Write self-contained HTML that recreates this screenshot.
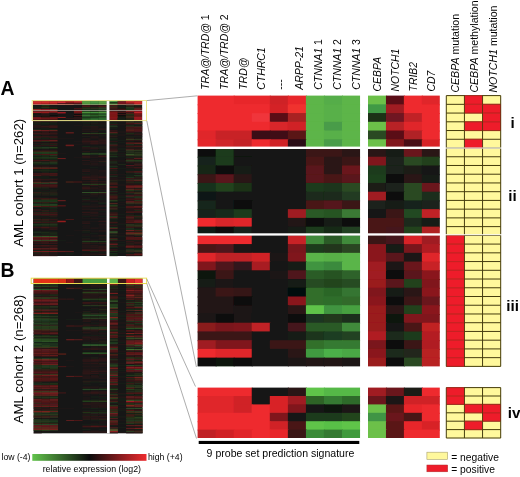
<!DOCTYPE html>
<html lang="en"><head><meta charset="utf-8"><title>AML cohort heatmap</title>
<style>html,body{margin:0;padding:0;background:#fff}svg{display:block}</style></head>
<body>
<svg width="520" height="477" viewBox="0 0 520 477">
<rect width="520" height="477" fill="#fff"/>
<defs><filter id="bl" x="-2%" y="-2%" width="104%" height="104%"><feGaussianBlur stdDeviation="0.5"/></filter><filter id="bl2" x="-2%" y="-2%" width="104%" height="104%"><feGaussianBlur stdDeviation="0.35"/></filter></defs>
<g filter="url(#bl)">
<rect x="197.6" y="95.6" width="37.1" height="9.73" fill="#ee2a2e"/>
<rect x="233.7" y="95.6" width="37.1" height="9.73" fill="#e8282c"/>
<rect x="269.8" y="95.6" width="19.05" height="9.73" fill="#cf2428"/>
<rect x="287.85" y="95.6" width="19.05" height="9.73" fill="#e8282c"/>
<rect x="305.9" y="95.6" width="19.05" height="9.73" fill="#5db548"/>
<rect x="323.95" y="95.6" width="19.05" height="9.73" fill="#55ad48"/>
<rect x="342" y="95.6" width="18.05" height="9.73" fill="#5db548"/>
<rect x="197.6" y="104.33" width="73.2" height="9.73" fill="#ee2a2e"/>
<rect x="269.8" y="104.33" width="19.05" height="9.73" fill="#d42428"/>
<rect x="287.85" y="104.33" width="19.05" height="9.73" fill="#f0302f"/>
<rect x="305.9" y="104.33" width="19.05" height="9.73" fill="#5db548"/>
<rect x="323.95" y="104.33" width="19.05" height="9.73" fill="#58b048"/>
<rect x="342" y="104.33" width="18.05" height="9.73" fill="#5db548"/>
<rect x="197.6" y="113.07" width="55.15" height="9.73" fill="#ee2a2e"/>
<rect x="251.75" y="113.07" width="19.05" height="9.73" fill="#f0353a"/>
<rect x="269.8" y="113.07" width="19.05" height="9.73" fill="#5a1018"/>
<rect x="287.85" y="113.07" width="19.05" height="9.73" fill="#a82024"/>
<rect x="305.9" y="113.07" width="19.05" height="9.73" fill="#5db548"/>
<rect x="323.95" y="113.07" width="19.05" height="9.73" fill="#58b048"/>
<rect x="342" y="113.07" width="18.05" height="9.73" fill="#5db548"/>
<rect x="197.6" y="121.8" width="73.2" height="9.73" fill="#ee2a2e"/>
<rect x="269.8" y="121.8" width="19.05" height="9.73" fill="#d82529"/>
<rect x="287.85" y="121.8" width="19.05" height="9.73" fill="#d02428"/>
<rect x="305.9" y="121.8" width="19.05" height="9.73" fill="#5db548"/>
<rect x="323.95" y="121.8" width="19.05" height="9.73" fill="#4a9c48"/>
<rect x="342" y="121.8" width="18.05" height="9.73" fill="#5db548"/>
<rect x="197.6" y="130.54" width="19.05" height="9.73" fill="#e0262a"/>
<rect x="215.65" y="130.54" width="37.1" height="9.73" fill="#c82428"/>
<rect x="251.75" y="130.54" width="19.05" height="9.73" fill="#3a1018"/>
<rect x="269.8" y="130.54" width="19.05" height="9.73" fill="#401018"/>
<rect x="287.85" y="130.54" width="19.05" height="9.73" fill="#5a1418"/>
<rect x="305.9" y="130.54" width="19.05" height="9.73" fill="#5db548"/>
<rect x="323.95" y="130.54" width="19.05" height="9.73" fill="#58b048"/>
<rect x="342" y="130.54" width="18.05" height="9.73" fill="#5db548"/>
<rect x="197.6" y="139.27" width="19.05" height="9.73" fill="#e4282c"/>
<rect x="215.65" y="139.27" width="19.05" height="9.73" fill="#cf2529"/>
<rect x="233.7" y="139.27" width="19.05" height="9.73" fill="#c42428"/>
<rect x="251.75" y="139.27" width="19.05" height="9.73" fill="#ee2a2e"/>
<rect x="269.8" y="139.27" width="19.05" height="9.73" fill="#d02428"/>
<rect x="287.85" y="139.27" width="19.05" height="9.73" fill="#2a1012"/>
<rect x="305.9" y="139.27" width="19.05" height="9.73" fill="#5db548"/>
<rect x="323.95" y="139.27" width="19.05" height="9.73" fill="#4a9c48"/>
<rect x="342" y="139.27" width="18.05" height="9.73" fill="#5db548"/>
<rect x="197.6" y="148.01" width="19.05" height="9.73" fill="#0c100c"/>
<rect x="215.65" y="148.01" width="19.05" height="9.73" fill="#1e3a1c"/>
<rect x="233.7" y="148.01" width="19.05" height="9.73" fill="#121412"/>
<rect x="251.75" y="148.01" width="55.15" height="9.73" fill="#141614"/>
<rect x="305.9" y="148.01" width="37.1" height="9.73" fill="#3a1418"/>
<rect x="342" y="148.01" width="18.05" height="9.73" fill="#2c1416"/>
<rect x="197.6" y="156.75" width="19.05" height="9.73" fill="#14241a"/>
<rect x="215.65" y="156.75" width="19.05" height="9.73" fill="#1e3a1c"/>
<rect x="233.7" y="156.75" width="19.05" height="9.73" fill="#121812"/>
<rect x="251.75" y="156.75" width="55.15" height="9.73" fill="#141614"/>
<rect x="305.9" y="156.75" width="19.05" height="9.73" fill="#4a1418"/>
<rect x="323.95" y="156.75" width="19.05" height="9.73" fill="#2a1418"/>
<rect x="342" y="156.75" width="18.05" height="9.73" fill="#3a1418"/>
<rect x="197.6" y="165.48" width="19.05" height="9.73" fill="#162818"/>
<rect x="215.65" y="165.48" width="19.05" height="9.73" fill="#0a0c0a"/>
<rect x="233.7" y="165.48" width="19.05" height="9.73" fill="#181a14"/>
<rect x="251.75" y="165.48" width="55.15" height="9.73" fill="#141614"/>
<rect x="305.9" y="165.48" width="19.05" height="9.73" fill="#5a141a"/>
<rect x="323.95" y="165.48" width="19.05" height="9.73" fill="#2a1418"/>
<rect x="342" y="165.48" width="18.05" height="9.73" fill="#6a161c"/>
<rect x="197.6" y="174.21" width="19.05" height="9.73" fill="#3a1418"/>
<rect x="215.65" y="174.21" width="19.05" height="9.73" fill="#5a141c"/>
<rect x="233.7" y="174.21" width="19.05" height="9.73" fill="#2a1416"/>
<rect x="251.75" y="174.21" width="55.15" height="9.73" fill="#141614"/>
<rect x="305.9" y="174.21" width="19.05" height="9.73" fill="#5a141a"/>
<rect x="323.95" y="174.21" width="19.05" height="9.73" fill="#4a1418"/>
<rect x="342" y="174.21" width="18.05" height="9.73" fill="#5a141a"/>
<rect x="197.6" y="182.95" width="19.05" height="9.73" fill="#16301a"/>
<rect x="215.65" y="182.95" width="19.05" height="9.73" fill="#20421e"/>
<rect x="233.7" y="182.95" width="19.05" height="9.73" fill="#1a3018"/>
<rect x="251.75" y="182.95" width="55.15" height="9.73" fill="#141614"/>
<rect x="305.9" y="182.95" width="19.05" height="9.73" fill="#1e3a1c"/>
<rect x="323.95" y="182.95" width="19.05" height="9.73" fill="#1c361c"/>
<rect x="342" y="182.95" width="18.05" height="9.73" fill="#2a4a24"/>
<rect x="197.6" y="191.69" width="19.05" height="9.73" fill="#101412"/>
<rect x="215.65" y="191.69" width="19.05" height="9.73" fill="#141614"/>
<rect x="233.7" y="191.69" width="19.05" height="9.73" fill="#141414"/>
<rect x="251.75" y="191.69" width="55.15" height="9.73" fill="#141614"/>
<rect x="305.9" y="191.69" width="19.05" height="9.73" fill="#1a2a1a"/>
<rect x="323.95" y="191.69" width="19.05" height="9.73" fill="#1a2c1a"/>
<rect x="342" y="191.69" width="18.05" height="9.73" fill="#223a20"/>
<rect x="197.6" y="200.42" width="19.05" height="9.73" fill="#16281a"/>
<rect x="215.65" y="200.42" width="19.05" height="9.73" fill="#141816"/>
<rect x="233.7" y="200.42" width="19.05" height="9.73" fill="#0c0e0c"/>
<rect x="251.75" y="200.42" width="55.15" height="9.73" fill="#141614"/>
<rect x="305.9" y="200.42" width="19.05" height="9.73" fill="#4a1418"/>
<rect x="323.95" y="200.42" width="19.05" height="9.73" fill="#54141a"/>
<rect x="342" y="200.42" width="18.05" height="9.73" fill="#3a1418"/>
<rect x="197.6" y="209.15" width="19.05" height="9.73" fill="#14241a"/>
<rect x="215.65" y="209.15" width="19.05" height="9.73" fill="#182a1a"/>
<rect x="233.7" y="209.15" width="19.05" height="9.73" fill="#1c3a1c"/>
<rect x="251.75" y="209.15" width="37.1" height="9.73" fill="#141614"/>
<rect x="287.85" y="209.15" width="19.05" height="9.73" fill="#a01c20"/>
<rect x="305.9" y="209.15" width="19.05" height="9.73" fill="#2a5a26"/>
<rect x="323.95" y="209.15" width="19.05" height="9.73" fill="#285424"/>
<rect x="342" y="209.15" width="18.05" height="9.73" fill="#3a7a34"/>
<rect x="197.6" y="217.89" width="19.05" height="9.73" fill="#ee2a2e"/>
<rect x="215.65" y="217.89" width="19.05" height="9.73" fill="#d8262a"/>
<rect x="233.7" y="217.89" width="19.05" height="9.73" fill="#e0282c"/>
<rect x="251.75" y="217.89" width="37.1" height="9.73" fill="#141614"/>
<rect x="287.85" y="217.89" width="19.05" height="9.73" fill="#201414"/>
<rect x="305.9" y="217.89" width="19.05" height="9.73" fill="#080a08"/>
<rect x="323.95" y="217.89" width="19.05" height="9.73" fill="#141c14"/>
<rect x="342" y="217.89" width="18.05" height="9.73" fill="#0a0a0a"/>
<rect x="197.6" y="226.62" width="19.05" height="9.73" fill="#101a14"/>
<rect x="215.65" y="226.62" width="19.05" height="9.73" fill="#0a0e0c"/>
<rect x="233.7" y="226.62" width="19.05" height="9.73" fill="#14201a"/>
<rect x="251.75" y="226.62" width="37.1" height="9.73" fill="#141614"/>
<rect x="287.85" y="226.62" width="19.05" height="9.73" fill="#141a14"/>
<rect x="305.9" y="226.62" width="19.05" height="9.73" fill="#1e3a1c"/>
<rect x="323.95" y="226.62" width="19.05" height="9.73" fill="#182a18"/>
<rect x="342" y="226.62" width="18.05" height="9.73" fill="#204020"/>
<rect x="197.6" y="235.36" width="55.15" height="9.73" fill="#ee2a2e"/>
<rect x="251.75" y="235.36" width="37.1" height="9.73" fill="#141614"/>
<rect x="287.85" y="235.36" width="19.05" height="9.73" fill="#c82428"/>
<rect x="305.9" y="235.36" width="19.05" height="9.73" fill="#3f8a3a"/>
<rect x="323.95" y="235.36" width="19.05" height="9.73" fill="#2a5a26"/>
<rect x="342" y="235.36" width="18.05" height="9.73" fill="#3f8a3a"/>
<rect x="197.6" y="244.09" width="19.05" height="9.73" fill="#4a1418"/>
<rect x="215.65" y="244.09" width="19.05" height="9.73" fill="#50141a"/>
<rect x="233.7" y="244.09" width="19.05" height="9.73" fill="#1a1416"/>
<rect x="251.75" y="244.09" width="19.05" height="9.73" fill="#141614"/>
<rect x="269.8" y="244.09" width="19.05" height="9.73" fill="#141414"/>
<rect x="287.85" y="244.09" width="19.05" height="9.73" fill="#7a161c"/>
<rect x="305.9" y="244.09" width="19.05" height="9.73" fill="#1e3a1c"/>
<rect x="323.95" y="244.09" width="19.05" height="9.73" fill="#20341e"/>
<rect x="342" y="244.09" width="18.05" height="9.73" fill="#2a4422"/>
<rect x="197.6" y="252.83" width="19.05" height="9.73" fill="#e0262a"/>
<rect x="215.65" y="252.83" width="37.1" height="9.73" fill="#c02226"/>
<rect x="251.75" y="252.83" width="19.05" height="9.73" fill="#d02428"/>
<rect x="269.8" y="252.83" width="19.05" height="9.73" fill="#1a1416"/>
<rect x="287.85" y="252.83" width="19.05" height="9.73" fill="#80181e"/>
<rect x="305.9" y="252.83" width="19.05" height="9.73" fill="#5ab548"/>
<rect x="323.95" y="252.83" width="19.05" height="9.73" fill="#58b046"/>
<rect x="342" y="252.83" width="18.05" height="9.73" fill="#5ab548"/>
<rect x="197.6" y="261.56" width="19.05" height="9.73" fill="#80181e"/>
<rect x="215.65" y="261.56" width="19.05" height="9.73" fill="#50141a"/>
<rect x="233.7" y="261.56" width="19.05" height="9.73" fill="#30141a"/>
<rect x="251.75" y="261.56" width="19.05" height="9.73" fill="#a81e20"/>
<rect x="269.8" y="261.56" width="19.05" height="9.73" fill="#141614"/>
<rect x="287.85" y="261.56" width="19.05" height="9.73" fill="#141a16"/>
<rect x="305.9" y="261.56" width="19.05" height="9.73" fill="#3f9440"/>
<rect x="323.95" y="261.56" width="19.05" height="9.73" fill="#3a8a3c"/>
<rect x="342" y="261.56" width="18.05" height="9.73" fill="#5ab548"/>
<rect x="197.6" y="270.3" width="19.05" height="9.73" fill="#101210"/>
<rect x="215.65" y="270.3" width="19.05" height="9.73" fill="#3a1418"/>
<rect x="233.7" y="270.3" width="37.1" height="9.73" fill="#141614"/>
<rect x="269.8" y="270.3" width="19.05" height="9.73" fill="#1c1416"/>
<rect x="287.85" y="270.3" width="19.05" height="9.73" fill="#50141c"/>
<rect x="305.9" y="270.3" width="19.05" height="9.73" fill="#2a5c26"/>
<rect x="323.95" y="270.3" width="19.05" height="9.73" fill="#285224"/>
<rect x="342" y="270.3" width="18.05" height="9.73" fill="#2e622a"/>
<rect x="197.6" y="279.03" width="19.05" height="9.73" fill="#181c18"/>
<rect x="215.65" y="279.03" width="19.05" height="9.73" fill="#1c1416"/>
<rect x="233.7" y="279.03" width="55.15" height="9.73" fill="#141614"/>
<rect x="287.85" y="279.03" width="19.05" height="9.73" fill="#141a16"/>
<rect x="305.9" y="279.03" width="19.05" height="9.73" fill="#264c22"/>
<rect x="323.95" y="279.03" width="19.05" height="9.73" fill="#22441e"/>
<rect x="342" y="279.03" width="18.05" height="9.73" fill="#264c22"/>
<rect x="197.6" y="287.77" width="19.05" height="9.73" fill="#241416"/>
<rect x="215.65" y="287.77" width="19.05" height="9.73" fill="#3a1418"/>
<rect x="233.7" y="287.77" width="19.05" height="9.73" fill="#341418"/>
<rect x="251.75" y="287.77" width="37.1" height="9.73" fill="#141614"/>
<rect x="287.85" y="287.77" width="19.05" height="9.73" fill="#060808"/>
<rect x="305.9" y="287.77" width="19.05" height="9.73" fill="#306e2c"/>
<rect x="323.95" y="287.77" width="19.05" height="9.73" fill="#2c6628"/>
<rect x="342" y="287.77" width="18.05" height="9.73" fill="#347430"/>
<rect x="197.6" y="296.5" width="37.1" height="9.73" fill="#241416"/>
<rect x="233.7" y="296.5" width="19.05" height="9.73" fill="#080a08"/>
<rect x="251.75" y="296.5" width="37.1" height="9.73" fill="#141614"/>
<rect x="287.85" y="296.5" width="19.05" height="9.73" fill="#8a181c"/>
<rect x="305.9" y="296.5" width="19.05" height="9.73" fill="#306e2c"/>
<rect x="323.95" y="296.5" width="19.05" height="9.73" fill="#2e6e2a"/>
<rect x="342" y="296.5" width="18.05" height="9.73" fill="#336a2c"/>
<rect x="197.6" y="305.24" width="37.1" height="9.73" fill="#201416"/>
<rect x="233.7" y="305.24" width="19.05" height="9.73" fill="#1c1416"/>
<rect x="251.75" y="305.24" width="37.1" height="9.73" fill="#141614"/>
<rect x="287.85" y="305.24" width="19.05" height="9.73" fill="#2a1416"/>
<rect x="305.9" y="305.24" width="19.05" height="9.73" fill="#5ec44a"/>
<rect x="323.95" y="305.24" width="19.05" height="9.73" fill="#3f9440"/>
<rect x="342" y="305.24" width="18.05" height="9.73" fill="#46a040"/>
<rect x="197.6" y="313.98" width="19.05" height="9.73" fill="#1a1616"/>
<rect x="215.65" y="313.98" width="19.05" height="9.73" fill="#0c0e0c"/>
<rect x="233.7" y="313.98" width="19.05" height="9.73" fill="#1a1616"/>
<rect x="251.75" y="313.98" width="37.1" height="9.73" fill="#141614"/>
<rect x="287.85" y="313.98" width="19.05" height="9.73" fill="#0c0e0e"/>
<rect x="305.9" y="313.98" width="19.05" height="9.73" fill="#1e3420"/>
<rect x="323.95" y="313.98" width="19.05" height="9.73" fill="#20381e"/>
<rect x="342" y="313.98" width="18.05" height="9.73" fill="#1a2e1c"/>
<rect x="197.6" y="322.71" width="19.05" height="9.73" fill="#8a1a1e"/>
<rect x="215.65" y="322.71" width="19.05" height="9.73" fill="#7a181c"/>
<rect x="233.7" y="322.71" width="19.05" height="9.73" fill="#80181e"/>
<rect x="251.75" y="322.71" width="19.05" height="9.73" fill="#c02226"/>
<rect x="269.8" y="322.71" width="19.05" height="9.73" fill="#141614"/>
<rect x="287.85" y="322.71" width="19.05" height="9.73" fill="#44141a"/>
<rect x="305.9" y="322.71" width="37.1" height="9.73" fill="#2a5a26"/>
<rect x="342" y="322.71" width="18.05" height="9.73" fill="#3f8a3a"/>
<rect x="197.6" y="331.44" width="55.15" height="9.73" fill="#3a1418"/>
<rect x="251.75" y="331.44" width="37.1" height="9.73" fill="#141614"/>
<rect x="287.85" y="331.44" width="19.05" height="9.73" fill="#141a18"/>
<rect x="305.9" y="331.44" width="19.05" height="9.73" fill="#1a341c"/>
<rect x="323.95" y="331.44" width="19.05" height="9.73" fill="#1e3c20"/>
<rect x="342" y="331.44" width="18.05" height="9.73" fill="#224220"/>
<rect x="197.6" y="340.18" width="19.05" height="9.73" fill="#a01c20"/>
<rect x="215.65" y="340.18" width="37.1" height="9.73" fill="#80181e"/>
<rect x="251.75" y="340.18" width="19.05" height="9.73" fill="#141614"/>
<rect x="269.8" y="340.18" width="37.1" height="9.73" fill="#3a1418"/>
<rect x="305.9" y="340.18" width="19.05" height="9.73" fill="#32702c"/>
<rect x="323.95" y="340.18" width="19.05" height="9.73" fill="#347a30"/>
<rect x="342" y="340.18" width="18.05" height="9.73" fill="#367a30"/>
<rect x="197.6" y="348.91" width="19.05" height="9.73" fill="#ee2a2e"/>
<rect x="215.65" y="348.91" width="37.1" height="9.73" fill="#e0262a"/>
<rect x="251.75" y="348.91" width="37.1" height="9.73" fill="#141614"/>
<rect x="287.85" y="348.91" width="19.05" height="9.73" fill="#2a1416"/>
<rect x="305.9" y="348.91" width="19.05" height="9.73" fill="#3f9a40"/>
<rect x="323.95" y="348.91" width="19.05" height="9.73" fill="#4cb048"/>
<rect x="342" y="348.91" width="18.05" height="9.73" fill="#48a844"/>
<rect x="197.6" y="357.65" width="19.05" height="8.73" fill="#080a08"/>
<rect x="215.65" y="357.65" width="19.05" height="8.73" fill="#101410"/>
<rect x="233.7" y="357.65" width="19.05" height="8.73" fill="#0c0c0c"/>
<rect x="251.75" y="357.65" width="37.1" height="8.73" fill="#141614"/>
<rect x="287.85" y="357.65" width="19.05" height="8.73" fill="#1e1416"/>
<rect x="305.9" y="357.65" width="19.05" height="8.73" fill="#201418"/>
<rect x="323.95" y="357.65" width="19.05" height="8.73" fill="#241418"/>
<rect x="342" y="357.65" width="18.05" height="8.73" fill="#1c1416"/>
<rect x="368" y="95.6" width="18.95" height="9.73" fill="#6cc04a"/>
<rect x="385.95" y="95.6" width="18.95" height="9.73" fill="#5a1014"/>
<rect x="403.9" y="95.6" width="18.95" height="9.73" fill="#ee2a2e"/>
<rect x="421.85" y="95.6" width="17.95" height="9.73" fill="#e0262a"/>
<rect x="368" y="104.33" width="18.95" height="9.73" fill="#3f9a45"/>
<rect x="385.95" y="104.33" width="18.95" height="9.73" fill="#a01c22"/>
<rect x="403.9" y="104.33" width="35.9" height="9.73" fill="#ee2a2e"/>
<rect x="368" y="113.07" width="18.95" height="9.73" fill="#1a3018"/>
<rect x="385.95" y="113.07" width="18.95" height="9.73" fill="#701820"/>
<rect x="403.9" y="113.07" width="18.95" height="9.73" fill="#c02428"/>
<rect x="421.85" y="113.07" width="17.95" height="9.73" fill="#ee2a2e"/>
<rect x="368" y="121.8" width="18.95" height="9.73" fill="#6cc04a"/>
<rect x="385.95" y="121.8" width="18.95" height="9.73" fill="#b82026"/>
<rect x="403.9" y="121.8" width="18.95" height="9.73" fill="#e0282c"/>
<rect x="421.85" y="121.8" width="17.95" height="9.73" fill="#ee2a2e"/>
<rect x="368" y="130.54" width="18.95" height="9.73" fill="#2a4a22"/>
<rect x="385.95" y="130.54" width="18.95" height="9.73" fill="#5a1016"/>
<rect x="403.9" y="130.54" width="18.95" height="9.73" fill="#b02026"/>
<rect x="421.85" y="130.54" width="17.95" height="9.73" fill="#ee2a2e"/>
<rect x="368" y="139.27" width="18.95" height="9.73" fill="#6cc04a"/>
<rect x="385.95" y="139.27" width="18.95" height="9.73" fill="#80161c"/>
<rect x="403.9" y="139.27" width="18.95" height="9.73" fill="#4a1014"/>
<rect x="421.85" y="139.27" width="17.95" height="9.73" fill="#d82428"/>
<rect x="368" y="148.01" width="18.95" height="9.73" fill="#2a1416"/>
<rect x="385.95" y="148.01" width="18.95" height="9.73" fill="#181c18"/>
<rect x="403.9" y="148.01" width="18.95" height="9.73" fill="#6a181c"/>
<rect x="421.85" y="148.01" width="17.95" height="9.73" fill="#2a1818"/>
<rect x="368" y="156.75" width="18.95" height="9.73" fill="#80181e"/>
<rect x="385.95" y="156.75" width="18.95" height="9.73" fill="#1a241a"/>
<rect x="403.9" y="156.75" width="18.95" height="9.73" fill="#2a4a24"/>
<rect x="421.85" y="156.75" width="17.95" height="9.73" fill="#22401e"/>
<rect x="368" y="165.48" width="18.95" height="9.73" fill="#1e3a1e"/>
<rect x="385.95" y="165.48" width="18.95" height="9.73" fill="#1a221a"/>
<rect x="403.9" y="165.48" width="18.95" height="9.73" fill="#1a1c18"/>
<rect x="421.85" y="165.48" width="17.95" height="9.73" fill="#141614"/>
<rect x="368" y="174.21" width="18.95" height="9.73" fill="#1e401e"/>
<rect x="385.95" y="174.21" width="18.95" height="9.73" fill="#080a08"/>
<rect x="403.9" y="174.21" width="18.95" height="9.73" fill="#2a1618"/>
<rect x="421.85" y="174.21" width="17.95" height="9.73" fill="#181a18"/>
<rect x="368" y="182.95" width="18.95" height="9.73" fill="#1a1a18"/>
<rect x="385.95" y="182.95" width="18.95" height="9.73" fill="#1a201a"/>
<rect x="403.9" y="182.95" width="18.95" height="9.73" fill="#2a4a24"/>
<rect x="421.85" y="182.95" width="17.95" height="9.73" fill="#6a181c"/>
<rect x="368" y="191.69" width="18.95" height="9.73" fill="#a01c20"/>
<rect x="385.95" y="191.69" width="18.95" height="9.73" fill="#0c100c"/>
<rect x="403.9" y="191.69" width="18.95" height="9.73" fill="#2a4a24"/>
<rect x="421.85" y="191.69" width="17.95" height="9.73" fill="#1e2e1c"/>
<rect x="368" y="200.42" width="18.95" height="9.73" fill="#1a201a"/>
<rect x="385.95" y="200.42" width="18.95" height="9.73" fill="#181c18"/>
<rect x="403.9" y="200.42" width="18.95" height="9.73" fill="#18221a"/>
<rect x="421.85" y="200.42" width="17.95" height="9.73" fill="#1a201a"/>
<rect x="368" y="209.15" width="18.95" height="9.73" fill="#141614"/>
<rect x="385.95" y="209.15" width="18.95" height="9.73" fill="#3a1418"/>
<rect x="403.9" y="209.15" width="18.95" height="9.73" fill="#244a22"/>
<rect x="421.85" y="209.15" width="17.95" height="9.73" fill="#c02226"/>
<rect x="368" y="217.89" width="36.9" height="9.73" fill="#4a1418"/>
<rect x="403.9" y="217.89" width="18.95" height="9.73" fill="#1a2a1a"/>
<rect x="421.85" y="217.89" width="17.95" height="9.73" fill="#141a14"/>
<rect x="368" y="226.62" width="18.95" height="9.73" fill="#4a1418"/>
<rect x="385.95" y="226.62" width="18.95" height="9.73" fill="#44141a"/>
<rect x="403.9" y="226.62" width="18.95" height="9.73" fill="#22421e"/>
<rect x="421.85" y="226.62" width="17.95" height="9.73" fill="#b02024"/>
<rect x="368" y="235.36" width="18.95" height="9.73" fill="#3a1418"/>
<rect x="385.95" y="235.36" width="18.95" height="9.73" fill="#44141a"/>
<rect x="403.9" y="235.36" width="18.95" height="9.73" fill="#d82428"/>
<rect x="421.85" y="235.36" width="17.95" height="9.73" fill="#a01c20"/>
<rect x="368" y="244.09" width="18.95" height="9.73" fill="#8a181c"/>
<rect x="385.95" y="244.09" width="18.95" height="9.73" fill="#181a18"/>
<rect x="403.9" y="244.09" width="18.95" height="9.73" fill="#7a161c"/>
<rect x="421.85" y="244.09" width="17.95" height="9.73" fill="#b01e22"/>
<rect x="368" y="252.83" width="18.95" height="9.73" fill="#8a181c"/>
<rect x="385.95" y="252.83" width="18.95" height="9.73" fill="#5a141a"/>
<rect x="403.9" y="252.83" width="18.95" height="9.73" fill="#1a1618"/>
<rect x="421.85" y="252.83" width="17.95" height="9.73" fill="#e0262a"/>
<rect x="368" y="261.56" width="18.95" height="9.73" fill="#a01c20"/>
<rect x="385.95" y="261.56" width="18.95" height="9.73" fill="#1a1616"/>
<rect x="403.9" y="261.56" width="18.95" height="9.73" fill="#6a161a"/>
<rect x="421.85" y="261.56" width="17.95" height="9.73" fill="#c82226"/>
<rect x="368" y="270.3" width="18.95" height="9.73" fill="#a01c20"/>
<rect x="385.95" y="270.3" width="18.95" height="9.73" fill="#0a0c0a"/>
<rect x="403.9" y="270.3" width="18.95" height="9.73" fill="#5a141a"/>
<rect x="421.85" y="270.3" width="17.95" height="9.73" fill="#8a181c"/>
<rect x="368" y="279.03" width="18.95" height="9.73" fill="#9a1a1e"/>
<rect x="385.95" y="279.03" width="18.95" height="9.73" fill="#5a141a"/>
<rect x="403.9" y="279.03" width="18.95" height="9.73" fill="#22421e"/>
<rect x="421.85" y="279.03" width="17.95" height="9.73" fill="#80161a"/>
<rect x="368" y="287.77" width="18.95" height="9.73" fill="#80181c"/>
<rect x="385.95" y="287.77" width="18.95" height="9.73" fill="#181a18"/>
<rect x="403.9" y="287.77" width="18.95" height="9.73" fill="#2a1416"/>
<rect x="421.85" y="287.77" width="17.95" height="9.73" fill="#8a181c"/>
<rect x="368" y="296.5" width="18.95" height="9.73" fill="#8a181c"/>
<rect x="385.95" y="296.5" width="18.95" height="9.73" fill="#0c0e0c"/>
<rect x="403.9" y="296.5" width="18.95" height="9.73" fill="#3a1418"/>
<rect x="421.85" y="296.5" width="17.95" height="9.73" fill="#6a161a"/>
<rect x="368" y="305.24" width="18.95" height="9.73" fill="#9a1a1e"/>
<rect x="385.95" y="305.24" width="18.95" height="9.73" fill="#2a1618"/>
<rect x="403.9" y="305.24" width="18.95" height="9.73" fill="#22421e"/>
<rect x="421.85" y="305.24" width="17.95" height="9.73" fill="#8a181c"/>
<rect x="368" y="313.98" width="18.95" height="9.73" fill="#9a1a1e"/>
<rect x="385.95" y="313.98" width="18.95" height="9.73" fill="#101210"/>
<rect x="403.9" y="313.98" width="18.95" height="9.73" fill="#80161c"/>
<rect x="421.85" y="313.98" width="17.95" height="9.73" fill="#80161a"/>
<rect x="368" y="322.71" width="18.95" height="9.73" fill="#9a1a1e"/>
<rect x="385.95" y="322.71" width="18.95" height="9.73" fill="#141614"/>
<rect x="403.9" y="322.71" width="18.95" height="9.73" fill="#4a1418"/>
<rect x="421.85" y="322.71" width="17.95" height="9.73" fill="#c02024"/>
<rect x="368" y="331.44" width="18.95" height="9.73" fill="#b01e22"/>
<rect x="385.95" y="331.44" width="18.95" height="9.73" fill="#1a2a1a"/>
<rect x="403.9" y="331.44" width="18.95" height="9.73" fill="#1e3a1c"/>
<rect x="421.85" y="331.44" width="17.95" height="9.73" fill="#b41e22"/>
<rect x="368" y="340.18" width="18.95" height="9.73" fill="#7a161a"/>
<rect x="385.95" y="340.18" width="18.95" height="9.73" fill="#0a0c0a"/>
<rect x="403.9" y="340.18" width="18.95" height="9.73" fill="#3a1418"/>
<rect x="421.85" y="340.18" width="17.95" height="9.73" fill="#b01e22"/>
<rect x="368" y="348.91" width="18.95" height="9.73" fill="#8a181c"/>
<rect x="385.95" y="348.91" width="18.95" height="9.73" fill="#1c2a1a"/>
<rect x="403.9" y="348.91" width="18.95" height="9.73" fill="#20281c"/>
<rect x="421.85" y="348.91" width="17.95" height="9.73" fill="#b82024"/>
<rect x="368" y="357.65" width="18.95" height="8.73" fill="#9a1a1e"/>
<rect x="385.95" y="357.65" width="18.95" height="8.73" fill="#0a0c0c"/>
<rect x="403.9" y="357.65" width="18.95" height="8.73" fill="#2a4a22"/>
<rect x="421.85" y="357.65" width="17.95" height="8.73" fill="#b82024"/>
<rect x="197.6" y="387.6" width="55.15" height="9.4" fill="#ee2a2e"/>
<rect x="251.75" y="387.6" width="37.1" height="9.4" fill="#141614"/>
<rect x="287.85" y="387.6" width="19.05" height="9.4" fill="#2a1416"/>
<rect x="305.9" y="387.6" width="19.05" height="9.4" fill="#5ec44a"/>
<rect x="323.95" y="387.6" width="36.1" height="9.4" fill="#55b846"/>
<rect x="197.6" y="396" width="37.1" height="9.4" fill="#e0262a"/>
<rect x="233.7" y="396" width="19.05" height="9.4" fill="#d02428"/>
<rect x="251.75" y="396" width="19.05" height="9.4" fill="#141614"/>
<rect x="269.8" y="396" width="19.05" height="9.4" fill="#d82428"/>
<rect x="287.85" y="396" width="19.05" height="9.4" fill="#a01c20"/>
<rect x="305.9" y="396" width="19.05" height="9.4" fill="#2e6428"/>
<rect x="323.95" y="396" width="19.05" height="9.4" fill="#347a30"/>
<rect x="342" y="396" width="18.05" height="9.4" fill="#2e6a2a"/>
<rect x="197.6" y="404.4" width="37.1" height="9.4" fill="#e0262a"/>
<rect x="233.7" y="404.4" width="19.05" height="9.4" fill="#d02428"/>
<rect x="251.75" y="404.4" width="19.05" height="9.4" fill="#ee2a2e"/>
<rect x="269.8" y="404.4" width="19.05" height="9.4" fill="#d82428"/>
<rect x="287.85" y="404.4" width="19.05" height="9.4" fill="#80161c"/>
<rect x="305.9" y="404.4" width="19.05" height="9.4" fill="#141614"/>
<rect x="323.95" y="404.4" width="19.05" height="9.4" fill="#101210"/>
<rect x="342" y="404.4" width="18.05" height="9.4" fill="#1a1616"/>
<rect x="197.6" y="412.8" width="73.2" height="9.4" fill="#ee2a2e"/>
<rect x="269.8" y="412.8" width="19.05" height="9.4" fill="#80161c"/>
<rect x="287.85" y="412.8" width="19.05" height="9.4" fill="#141618"/>
<rect x="305.9" y="412.8" width="19.05" height="9.4" fill="#1e3a1c"/>
<rect x="323.95" y="412.8" width="19.05" height="9.4" fill="#1e3a1e"/>
<rect x="342" y="412.8" width="18.05" height="9.4" fill="#22441e"/>
<rect x="197.6" y="421.2" width="73.2" height="9.4" fill="#ee2a2e"/>
<rect x="269.8" y="421.2" width="19.05" height="9.4" fill="#d02428"/>
<rect x="287.85" y="421.2" width="19.05" height="9.4" fill="#4a1418"/>
<rect x="305.9" y="421.2" width="19.05" height="9.4" fill="#5ec44a"/>
<rect x="323.95" y="421.2" width="19.05" height="9.4" fill="#58c046"/>
<rect x="342" y="421.2" width="18.05" height="9.4" fill="#5ec44a"/>
<rect x="197.6" y="429.6" width="19.05" height="8.4" fill="#c02226"/>
<rect x="215.65" y="429.6" width="19.05" height="8.4" fill="#d02428"/>
<rect x="233.7" y="429.6" width="19.05" height="8.4" fill="#e0262a"/>
<rect x="251.75" y="429.6" width="19.05" height="8.4" fill="#ee2a2e"/>
<rect x="269.8" y="429.6" width="19.05" height="8.4" fill="#e8282c"/>
<rect x="287.85" y="429.6" width="19.05" height="8.4" fill="#3a1418"/>
<rect x="305.9" y="429.6" width="19.05" height="8.4" fill="#3a8a38"/>
<rect x="323.95" y="429.6" width="19.05" height="8.4" fill="#347a30"/>
<rect x="342" y="429.6" width="18.05" height="8.4" fill="#3f9a3c"/>
<rect x="368" y="387.6" width="18.95" height="9.4" fill="#a01c20"/>
<rect x="385.95" y="387.6" width="18.95" height="9.4" fill="#6a161a"/>
<rect x="403.9" y="387.6" width="18.95" height="9.4" fill="#1a1a16"/>
<rect x="421.85" y="387.6" width="17.95" height="9.4" fill="#ee2a2e"/>
<rect x="368" y="396" width="18.95" height="9.4" fill="#6a141a"/>
<rect x="385.95" y="396" width="18.95" height="9.4" fill="#1a1618"/>
<rect x="403.9" y="396" width="35.9" height="9.4" fill="#d02428"/>
<rect x="368" y="404.4" width="18.95" height="9.4" fill="#6cc04a"/>
<rect x="385.95" y="404.4" width="18.95" height="9.4" fill="#5a1418"/>
<rect x="403.9" y="404.4" width="18.95" height="9.4" fill="#e8282c"/>
<rect x="421.85" y="404.4" width="17.95" height="9.4" fill="#ee2a2e"/>
<rect x="368" y="412.8" width="18.95" height="9.4" fill="#3f9445"/>
<rect x="385.95" y="412.8" width="18.95" height="9.4" fill="#6a141a"/>
<rect x="403.9" y="412.8" width="18.95" height="9.4" fill="#4a1418"/>
<rect x="421.85" y="412.8" width="17.95" height="9.4" fill="#ee2a2e"/>
<rect x="368" y="421.2" width="18.95" height="9.4" fill="#6cc04a"/>
<rect x="385.95" y="421.2" width="18.95" height="9.4" fill="#5a1418"/>
<rect x="403.9" y="421.2" width="18.95" height="9.4" fill="#e8282c"/>
<rect x="421.85" y="421.2" width="17.95" height="9.4" fill="#d82428"/>
<rect x="368" y="429.6" width="18.95" height="8.4" fill="#6cc04a"/>
<rect x="385.95" y="429.6" width="18.95" height="8.4" fill="#5a1418"/>
<rect x="403.9" y="429.6" width="35.9" height="8.4" fill="#ee2a2e"/>
<rect x="446.3" y="95.6" width="18.43" height="9.04" fill="#fff89c"/>
<rect x="464.43" y="95.6" width="18.43" height="9.04" fill="#ee1c2a"/>
<rect x="482.56" y="95.6" width="18.43" height="9.04" fill="#fff89c"/>
<rect x="446.3" y="104.33" width="18.43" height="9.04" fill="#fff89c"/>
<rect x="464.43" y="104.33" width="18.43" height="9.04" fill="#ee1c2a"/>
<rect x="482.56" y="104.33" width="18.43" height="9.04" fill="#ee1c2a"/>
<rect x="446.3" y="113.07" width="18.43" height="9.04" fill="#fff89c"/>
<rect x="464.43" y="113.07" width="18.43" height="9.04" fill="#fff89c"/>
<rect x="482.56" y="113.07" width="18.43" height="9.04" fill="#ee1c2a"/>
<rect x="446.3" y="121.8" width="18.43" height="9.04" fill="#fff89c"/>
<rect x="464.43" y="121.8" width="18.43" height="9.04" fill="#ee1c2a"/>
<rect x="482.56" y="121.8" width="18.43" height="9.04" fill="#ee1c2a"/>
<rect x="446.3" y="130.54" width="18.43" height="9.04" fill="#fff89c"/>
<rect x="464.43" y="130.54" width="18.43" height="9.04" fill="#fff89c"/>
<rect x="482.56" y="130.54" width="18.43" height="9.04" fill="#fff89c"/>
<rect x="446.3" y="139.27" width="18.43" height="9.04" fill="#fff89c"/>
<rect x="464.43" y="139.27" width="18.43" height="9.04" fill="#ee1c2a"/>
<rect x="482.56" y="139.27" width="18.43" height="9.04" fill="#fff89c"/>
<rect x="446.3" y="148.01" width="18.43" height="9.04" fill="#fff89c"/>
<rect x="464.43" y="148.01" width="18.43" height="9.04" fill="#fff89c"/>
<rect x="482.56" y="148.01" width="18.43" height="9.04" fill="#fff89c"/>
<rect x="446.3" y="156.75" width="18.43" height="9.04" fill="#fff89c"/>
<rect x="464.43" y="156.75" width="18.43" height="9.04" fill="#fff89c"/>
<rect x="482.56" y="156.75" width="18.43" height="9.04" fill="#fff89c"/>
<rect x="446.3" y="165.48" width="18.43" height="9.04" fill="#fff89c"/>
<rect x="464.43" y="165.48" width="18.43" height="9.04" fill="#fff89c"/>
<rect x="482.56" y="165.48" width="18.43" height="9.04" fill="#fff89c"/>
<rect x="446.3" y="174.21" width="18.43" height="9.04" fill="#fff89c"/>
<rect x="464.43" y="174.21" width="18.43" height="9.04" fill="#fff89c"/>
<rect x="482.56" y="174.21" width="18.43" height="9.04" fill="#fff89c"/>
<rect x="446.3" y="182.95" width="18.43" height="9.04" fill="#fff89c"/>
<rect x="464.43" y="182.95" width="18.43" height="9.04" fill="#fff89c"/>
<rect x="482.56" y="182.95" width="18.43" height="9.04" fill="#fff89c"/>
<rect x="446.3" y="191.69" width="18.43" height="9.04" fill="#fff89c"/>
<rect x="464.43" y="191.69" width="18.43" height="9.04" fill="#fff89c"/>
<rect x="482.56" y="191.69" width="18.43" height="9.04" fill="#fff89c"/>
<rect x="446.3" y="200.42" width="18.43" height="9.04" fill="#fff89c"/>
<rect x="464.43" y="200.42" width="18.43" height="9.04" fill="#fff89c"/>
<rect x="482.56" y="200.42" width="18.43" height="9.04" fill="#fff89c"/>
<rect x="446.3" y="209.15" width="18.43" height="9.04" fill="#fff89c"/>
<rect x="464.43" y="209.15" width="18.43" height="9.04" fill="#fff89c"/>
<rect x="482.56" y="209.15" width="18.43" height="9.04" fill="#fff89c"/>
<rect x="446.3" y="217.89" width="18.43" height="9.04" fill="#fff89c"/>
<rect x="464.43" y="217.89" width="18.43" height="9.04" fill="#fff89c"/>
<rect x="482.56" y="217.89" width="18.43" height="9.04" fill="#fff89c"/>
<rect x="446.3" y="226.62" width="18.43" height="9.04" fill="#fff89c"/>
<rect x="464.43" y="226.62" width="18.43" height="9.04" fill="#fff89c"/>
<rect x="482.56" y="226.62" width="18.43" height="9.04" fill="#fff89c"/>
<rect x="446.3" y="235.36" width="18.43" height="9.04" fill="#ee1c2a"/>
<rect x="464.43" y="235.36" width="18.43" height="9.04" fill="#fff89c"/>
<rect x="482.56" y="235.36" width="18.43" height="9.04" fill="#fff89c"/>
<rect x="446.3" y="244.09" width="18.43" height="9.04" fill="#ee1c2a"/>
<rect x="464.43" y="244.09" width="18.43" height="9.04" fill="#fff89c"/>
<rect x="482.56" y="244.09" width="18.43" height="9.04" fill="#fff89c"/>
<rect x="446.3" y="252.83" width="18.43" height="9.04" fill="#ee1c2a"/>
<rect x="464.43" y="252.83" width="18.43" height="9.04" fill="#fff89c"/>
<rect x="482.56" y="252.83" width="18.43" height="9.04" fill="#fff89c"/>
<rect x="446.3" y="261.56" width="18.43" height="9.04" fill="#ee1c2a"/>
<rect x="464.43" y="261.56" width="18.43" height="9.04" fill="#fff89c"/>
<rect x="482.56" y="261.56" width="18.43" height="9.04" fill="#fff89c"/>
<rect x="446.3" y="270.3" width="18.43" height="9.04" fill="#ee1c2a"/>
<rect x="464.43" y="270.3" width="18.43" height="9.04" fill="#fff89c"/>
<rect x="482.56" y="270.3" width="18.43" height="9.04" fill="#fff89c"/>
<rect x="446.3" y="279.03" width="18.43" height="9.04" fill="#ee1c2a"/>
<rect x="464.43" y="279.03" width="18.43" height="9.04" fill="#fff89c"/>
<rect x="482.56" y="279.03" width="18.43" height="9.04" fill="#fff89c"/>
<rect x="446.3" y="287.77" width="18.43" height="9.04" fill="#ee1c2a"/>
<rect x="464.43" y="287.77" width="18.43" height="9.04" fill="#fff89c"/>
<rect x="482.56" y="287.77" width="18.43" height="9.04" fill="#fff89c"/>
<rect x="446.3" y="296.5" width="18.43" height="9.04" fill="#ee1c2a"/>
<rect x="464.43" y="296.5" width="18.43" height="9.04" fill="#fff89c"/>
<rect x="482.56" y="296.5" width="18.43" height="9.04" fill="#fff89c"/>
<rect x="446.3" y="305.24" width="18.43" height="9.04" fill="#ee1c2a"/>
<rect x="464.43" y="305.24" width="18.43" height="9.04" fill="#fff89c"/>
<rect x="482.56" y="305.24" width="18.43" height="9.04" fill="#fff89c"/>
<rect x="446.3" y="313.98" width="18.43" height="9.04" fill="#ee1c2a"/>
<rect x="464.43" y="313.98" width="18.43" height="9.04" fill="#fff89c"/>
<rect x="482.56" y="313.98" width="18.43" height="9.04" fill="#fff89c"/>
<rect x="446.3" y="322.71" width="18.43" height="9.04" fill="#ee1c2a"/>
<rect x="464.43" y="322.71" width="18.43" height="9.04" fill="#fff89c"/>
<rect x="482.56" y="322.71" width="18.43" height="9.04" fill="#fff89c"/>
<rect x="446.3" y="331.44" width="18.43" height="9.04" fill="#ee1c2a"/>
<rect x="464.43" y="331.44" width="18.43" height="9.04" fill="#fff89c"/>
<rect x="482.56" y="331.44" width="18.43" height="9.04" fill="#fff89c"/>
<rect x="446.3" y="340.18" width="18.43" height="9.04" fill="#ee1c2a"/>
<rect x="464.43" y="340.18" width="18.43" height="9.04" fill="#fff89c"/>
<rect x="482.56" y="340.18" width="18.43" height="9.04" fill="#fff89c"/>
<rect x="446.3" y="348.91" width="18.43" height="9.04" fill="#ee1c2a"/>
<rect x="464.43" y="348.91" width="18.43" height="9.04" fill="#fff89c"/>
<rect x="482.56" y="348.91" width="18.43" height="9.04" fill="#fff89c"/>
<rect x="446.3" y="357.65" width="18.43" height="9.04" fill="#ee1c2a"/>
<rect x="464.43" y="357.65" width="18.43" height="9.04" fill="#fff89c"/>
<rect x="482.56" y="357.65" width="18.43" height="9.04" fill="#fff89c"/>
<path d="M446.3 95.6h54.39M446.3 104.33h54.39M446.3 113.07h54.39M446.3 121.8h54.39M446.3 130.54h54.39M446.3 139.27h54.39M446.3 148.01h54.39M446.3 156.75h54.39M446.3 165.48h54.39M446.3 174.21h54.39M446.3 182.95h54.39M446.3 191.69h54.39M446.3 200.42h54.39M446.3 209.15h54.39M446.3 217.89h54.39M446.3 226.62h54.39M446.3 235.36h54.39M446.3 244.09h54.39M446.3 252.83h54.39M446.3 261.56h54.39M446.3 270.3h54.39M446.3 279.03h54.39M446.3 287.77h54.39M446.3 296.5h54.39M446.3 305.24h54.39M446.3 313.98h54.39M446.3 322.71h54.39M446.3 331.44h54.39M446.3 340.18h54.39M446.3 348.91h54.39M446.3 357.65h54.39M446.3 366.38h54.39M446.3 95.6v270.78M464.43 95.6v270.78M482.56 95.6v270.78M500.69 95.6v270.78" stroke="#453c0c" stroke-width="1" fill="none"/>
<rect x="464.73" y="95" width="17.53" height="9.93" fill="#ee1c2a" opacity="0.5"/>
<rect x="464.73" y="103.73" width="17.53" height="9.93" fill="#ee1c2a" opacity="0.5"/>
<rect x="482.86" y="103.73" width="17.53" height="9.93" fill="#ee1c2a" opacity="0.5"/>
<rect x="482.86" y="112.47" width="17.53" height="9.93" fill="#ee1c2a" opacity="0.5"/>
<rect x="464.73" y="121.2" width="17.53" height="9.93" fill="#ee1c2a" opacity="0.5"/>
<rect x="482.86" y="121.2" width="17.53" height="9.93" fill="#ee1c2a" opacity="0.5"/>
<rect x="464.73" y="138.67" width="17.53" height="9.93" fill="#ee1c2a" opacity="0.5"/>
<rect x="446.6" y="234.76" width="17.53" height="9.93" fill="#ee1c2a" opacity="0.5"/>
<rect x="446.6" y="243.5" width="17.53" height="9.93" fill="#ee1c2a" opacity="0.5"/>
<rect x="446.6" y="252.23" width="17.53" height="9.93" fill="#ee1c2a" opacity="0.5"/>
<rect x="446.6" y="260.96" width="17.53" height="9.93" fill="#ee1c2a" opacity="0.5"/>
<rect x="446.6" y="269.7" width="17.53" height="9.93" fill="#ee1c2a" opacity="0.5"/>
<rect x="446.6" y="278.43" width="17.53" height="9.93" fill="#ee1c2a" opacity="0.5"/>
<rect x="446.6" y="287.17" width="17.53" height="9.93" fill="#ee1c2a" opacity="0.5"/>
<rect x="446.6" y="295.9" width="17.53" height="9.93" fill="#ee1c2a" opacity="0.5"/>
<rect x="446.6" y="304.64" width="17.53" height="9.93" fill="#ee1c2a" opacity="0.5"/>
<rect x="446.6" y="313.38" width="17.53" height="9.93" fill="#ee1c2a" opacity="0.5"/>
<rect x="446.6" y="322.11" width="17.53" height="9.93" fill="#ee1c2a" opacity="0.5"/>
<rect x="446.6" y="330.84" width="17.53" height="9.93" fill="#ee1c2a" opacity="0.5"/>
<rect x="446.6" y="339.58" width="17.53" height="9.93" fill="#ee1c2a" opacity="0.5"/>
<rect x="446.6" y="348.31" width="17.53" height="9.93" fill="#ee1c2a" opacity="0.5"/>
<rect x="446.6" y="357.05" width="17.53" height="9.93" fill="#ee1c2a" opacity="0.5"/>
<rect x="446.3" y="387.6" width="18.43" height="8.7" fill="#ee1c2a"/>
<rect x="464.43" y="387.6" width="18.43" height="8.7" fill="#fff89c"/>
<rect x="482.56" y="387.6" width="18.43" height="8.7" fill="#fff89c"/>
<rect x="446.3" y="396" width="18.43" height="8.7" fill="#ee1c2a"/>
<rect x="464.43" y="396" width="18.43" height="8.7" fill="#fff89c"/>
<rect x="482.56" y="396" width="18.43" height="8.7" fill="#fff89c"/>
<rect x="446.3" y="404.4" width="18.43" height="8.7" fill="#fff89c"/>
<rect x="464.43" y="404.4" width="18.43" height="8.7" fill="#ee1c2a"/>
<rect x="482.56" y="404.4" width="18.43" height="8.7" fill="#ee1c2a"/>
<rect x="446.3" y="412.8" width="18.43" height="8.7" fill="#fff89c"/>
<rect x="464.43" y="412.8" width="18.43" height="8.7" fill="#fff89c"/>
<rect x="482.56" y="412.8" width="18.43" height="8.7" fill="#ee1c2a"/>
<rect x="446.3" y="421.2" width="18.43" height="8.7" fill="#fff89c"/>
<rect x="464.43" y="421.2" width="18.43" height="8.7" fill="#ee1c2a"/>
<rect x="482.56" y="421.2" width="18.43" height="8.7" fill="#fff89c"/>
<rect x="446.3" y="429.6" width="18.43" height="8.7" fill="#fff89c"/>
<rect x="464.43" y="429.6" width="18.43" height="8.7" fill="#fff89c"/>
<rect x="482.56" y="429.6" width="18.43" height="8.7" fill="#fff89c"/>
<path d="M446.3 387.6h54.39M446.3 396h54.39M446.3 404.4h54.39M446.3 412.8h54.39M446.3 421.2h54.39M446.3 429.6h54.39M446.3 438h54.39M446.3 387.6v50.4M464.43 387.6v50.4M482.56 387.6v50.4M500.69 387.6v50.4" stroke="#453c0c" stroke-width="1" fill="none"/>
<rect x="446.6" y="387" width="17.53" height="9.6" fill="#ee1c2a" opacity="0.5"/>
<rect x="446.6" y="395.4" width="17.53" height="9.6" fill="#ee1c2a" opacity="0.5"/>
<rect x="464.73" y="403.8" width="17.53" height="9.6" fill="#ee1c2a" opacity="0.5"/>
<rect x="482.86" y="403.8" width="17.53" height="9.6" fill="#ee1c2a" opacity="0.5"/>
<rect x="482.86" y="412.2" width="17.53" height="9.6" fill="#ee1c2a" opacity="0.5"/>
<rect x="464.73" y="420.6" width="17.53" height="9.6" fill="#ee1c2a" opacity="0.5"/>
</g>
<rect x="196" y="146.6" width="246" height="2.4" fill="#fff"/>
<rect x="445" y="147.4" width="57" height="1.3" fill="#fff" opacity="0.8"/>
<rect x="196" y="233.3" width="246" height="2.3" fill="#fff"/>
<rect x="445" y="234.05" width="57" height="1.3" fill="#fff" opacity="0.8"/>
<g filter="url(#bl2)">
<rect x="33" y="100.8" width="109.3" height="155.2" fill="#141614"/>
<path d="M33 101.3h8.18M41.18 101.3h8.18M125.85 101.3h8.23M33 101.9h8.18M41.18 101.9h8.18M49.36 101.9h8.18M57.53 101.9h8.18M73.89 101.9h8.18M125.85 101.9h8.23M134.08 101.9h8.23M33 102.5h8.18M41.18 102.5h8.18M49.36 102.5h8.18M134.08 102.5h8.23M33 103.1h8.18M41.18 103.1h8.18M49.36 103.1h8.18M57.53 103.1h8.18M134.08 103.1h8.23M134.08 103.7h8.23M57.53 104.3h8.18" stroke="#f03030" stroke-width="0.72" fill="none"/>
<path d="M49.36 101.3h8.18M57.53 101.3h8.18M73.89 101.3h8.18M134.08 101.3h8.23M125.85 103.1h8.23M33 103.7h8.18M33 104.3h8.18" stroke="#e42430" stroke-width="0.72" fill="none"/>
<path d="M65.71 101.3h8.18M73.89 103.1h8.18M41.18 103.7h8.18M49.36 103.7h8.18M41.18 104.3h8.18M65.71 104.3h8.18" stroke="#cc2424" stroke-width="0.72" fill="none"/>
<path d="M82.07 101.3h8.18M98.42 101.3h8.18M82.07 101.9h8.18M98.42 101.9h8.18M82.07 102.5h8.18M98.42 102.5h8.18M82.07 103.1h8.18M98.42 103.1h8.18M82.07 103.7h8.18M98.42 103.7h8.18M82.07 104.3h8.18M98.42 104.3h8.18" stroke="#60b448" stroke-width="0.72" fill="none"/>
<path d="M90.24 101.3h8.18" stroke="#54a848" stroke-width="0.72" fill="none"/>
<path d="M109.4 101.3h8.23M109.4 103.1h8.23M109.4 104.3h8.23" stroke="#6cc048" stroke-width="0.72" fill="none"/>
<path d="M117.62 101.3h8.23M65.71 102.5h8.18M117.62 103.7h8.23" stroke="#600c18" stroke-width="0.72" fill="none"/>
<path d="M65.71 101.9h8.18M65.71 103.1h8.18M134.08 104.3h8.23" stroke="#d82424" stroke-width="0.72" fill="none"/>
<path d="M90.24 101.9h8.18M90.24 102.5h8.18M90.24 103.7h8.18" stroke="#54b448" stroke-width="0.72" fill="none"/>
<path d="M109.4 101.9h8.23" stroke="#3c9c48" stroke-width="0.72" fill="none"/>
<path d="M117.62 101.9h8.23" stroke="#9c1824" stroke-width="0.72" fill="none"/>
<path d="M57.53 102.5h8.18" stroke="#f0303c" stroke-width="0.72" fill="none"/>
<path d="M73.89 102.5h8.18" stroke="#a82424" stroke-width="0.72" fill="none"/>
<path d="M109.4 102.5h8.23" stroke="#183018" stroke-width="0.72" fill="none"/>
<path d="M117.62 102.5h8.23" stroke="#6c1824" stroke-width="0.72" fill="none"/>
<path d="M125.85 102.5h8.23M49.36 104.3h8.18" stroke="#c02424" stroke-width="0.72" fill="none"/>
<path d="M90.24 103.1h8.18M90.24 104.3h8.18" stroke="#489c48" stroke-width="0.72" fill="none"/>
<path d="M117.62 103.1h8.23M125.85 103.7h8.23" stroke="#b42424" stroke-width="0.72" fill="none"/>
<path d="M57.53 103.7h8.18M65.71 103.7h8.18" stroke="#3c0c18" stroke-width="0.72" fill="none"/>
<path d="M73.89 103.7h8.18" stroke="#601818" stroke-width="0.72" fill="none"/>
<path d="M109.4 103.7h8.23" stroke="#304824" stroke-width="0.72" fill="none"/>
<path d="M73.89 104.3h8.18" stroke="#300c18" stroke-width="0.72" fill="none"/>
<path d="M117.62 104.3h8.23" stroke="#841818" stroke-width="0.72" fill="none"/>
<path d="M125.85 104.3h8.23" stroke="#480c18" stroke-width="0.72" fill="none"/>
<path d="M33 105.35h8.18M41.18 106.37h8.18M117.62 106.88h8.23M117.62 107.91h8.23M49.36 108.41h8.18M82.07 109.44h8.18M98.42 109.44h8.18M41.18 109.94h8.18" stroke="#0c0c0c" stroke-width="0.63" fill="none"/>
<path d="M41.18 105.35h8.18M41.18 105.86h8.18M109.4 106.37h8.23M109.4 106.88h8.23M82.07 107.39h8.18M49.36 108.92h8.18M82.07 109.94h8.18" stroke="#183c18" stroke-width="0.63" fill="none"/>
<path d="M82.07 105.35h8.18M90.24 105.35h8.18M98.42 105.86h8.18M33 106.88h8.18M98.42 108.41h8.18M117.62 108.92h8.23" stroke="#3c1818" stroke-width="0.63" fill="none"/>
<path d="M98.42 105.35h8.18M109.4 105.35h8.23M134.08 105.35h8.23M90.24 105.86h8.18M90.24 106.37h8.18M49.36 106.88h8.18M125.85 106.88h8.23" stroke="#301818" stroke-width="0.63" fill="none"/>
<path d="M125.85 105.35h8.23M98.42 106.37h8.18M134.08 107.39h8.23" stroke="#6c1818" stroke-width="0.63" fill="none"/>
<path d="M33 105.86h8.18M117.62 105.86h8.23M33 106.37h8.18M117.62 106.37h8.23M117.62 107.39h8.23M33 108.41h8.18M109.4 108.41h8.23M125.85 108.41h8.23M134.08 108.41h8.23M33 108.92h8.18M49.36 109.94h8.18" stroke="#182418" stroke-width="0.63" fill="none"/>
<path d="M82.07 105.86h8.18M90.24 106.88h8.18M82.07 108.41h8.18M109.4 109.44h8.23M117.62 109.44h8.23M109.4 109.94h8.23M117.62 109.94h8.23" stroke="#481818" stroke-width="0.63" fill="none"/>
<path d="M109.4 105.86h8.23" stroke="#841818" stroke-width="0.63" fill="none"/>
<path d="M125.85 105.86h8.23M98.42 107.39h8.18M125.85 107.39h8.23M125.85 107.91h8.23" stroke="#304824" stroke-width="0.63" fill="none"/>
<path d="M134.08 105.86h8.23" stroke="#243c18" stroke-width="0.63" fill="none"/>
<path d="M82.07 106.37h8.18M41.18 106.88h8.18M82.07 106.88h8.18M98.42 106.88h8.18" stroke="#601818" stroke-width="0.63" fill="none"/>
<path d="M33 107.39h8.18M49.36 107.39h8.18M90.24 107.39h8.18M82.07 107.91h8.18M90.24 107.91h8.18M134.08 107.91h8.23M41.18 108.92h8.18M125.85 109.44h8.23M90.24 109.94h8.18" stroke="#183018" stroke-width="0.63" fill="none"/>
<path d="M41.18 107.39h8.18M125.85 109.94h8.23" stroke="#244818" stroke-width="0.63" fill="none"/>
<path d="M33 107.91h8.18M33 109.94h8.18" stroke="#0c1818" stroke-width="0.63" fill="none"/>
<path d="M98.42 107.91h8.18M98.42 109.94h8.18" stroke="#243c24" stroke-width="0.63" fill="none"/>
<path d="M109.4 107.91h8.23M73.89 108.92h8.18" stroke="#9c1824" stroke-width="0.63" fill="none"/>
<path d="M90.24 108.41h8.18" stroke="#541818" stroke-width="0.63" fill="none"/>
<path d="M82.07 108.92h8.18" stroke="#306024" stroke-width="0.63" fill="none"/>
<path d="M90.24 108.92h8.18" stroke="#245424" stroke-width="0.63" fill="none"/>
<path d="M98.42 108.92h8.18" stroke="#3c7830" stroke-width="0.63" fill="none"/>
<path d="M125.85 108.92h8.23" stroke="#244824" stroke-width="0.63" fill="none"/>
<path d="M134.08 108.92h8.23" stroke="#c02424" stroke-width="0.63" fill="none"/>
<path d="M33 109.44h8.18" stroke="#f03030" stroke-width="0.63" fill="none"/>
<path d="M41.18 109.44h8.18" stroke="#d82430" stroke-width="0.63" fill="none"/>
<path d="M49.36 109.44h8.18" stroke="#e42430" stroke-width="0.63" fill="none"/>
<path d="M73.89 109.44h8.18" stroke="#241818" stroke-width="0.63" fill="none"/>
<path d="M134.08 109.94h8.23" stroke="#b42424" stroke-width="0.63" fill="none"/>
<path d="M33 111.21h8.18M41.18 111.21h8.18M49.36 111.21h8.18M33 119.27h8.18" stroke="#f03030" stroke-width="0.74" fill="none"/>
<path d="M73.89 111.21h8.18M57.53 112.45h8.18M134.08 113.07h8.23" stroke="#cc2424" stroke-width="0.74" fill="none"/>
<path d="M82.07 111.21h8.18M98.42 111.21h8.18M82.07 113.07h8.18M90.24 113.07h8.18M90.24 116.17h8.18M98.42 117.41h8.18" stroke="#3c903c" stroke-width="0.74" fill="none"/>
<path d="M90.24 111.21h8.18M82.07 113.69h8.18M90.24 114.93h8.18M82.07 117.41h8.18M90.24 117.41h8.18" stroke="#306024" stroke-width="0.74" fill="none"/>
<path d="M109.4 111.21h8.23M41.18 113.69h8.18M41.18 114.93h8.18M125.85 115.55h8.23M33 118.03h8.18M41.18 118.03h8.18M49.36 118.03h8.18M65.71 118.65h8.18M73.89 118.65h8.18M125.85 118.65h8.23" stroke="#3c1818" stroke-width="0.74" fill="none"/>
<path d="M117.62 111.21h8.23M33 111.83h8.18M73.89 117.41h8.18M125.85 117.41h8.23" stroke="#481818" stroke-width="0.74" fill="none"/>
<path d="M125.85 111.21h8.23" stroke="#d82424" stroke-width="0.74" fill="none"/>
<path d="M134.08 111.21h8.23M109.4 113.07h8.23M109.4 113.69h8.23M33 118.65h8.18" stroke="#9c1824" stroke-width="0.74" fill="none"/>
<path d="M41.18 111.83h8.18M41.18 113.07h8.18M73.89 113.69h8.18" stroke="#541818" stroke-width="0.74" fill="none"/>
<path d="M73.89 111.83h8.18M125.85 111.83h8.23M41.18 117.41h8.18M109.4 118.65h8.23" stroke="#781818" stroke-width="0.74" fill="none"/>
<path d="M82.07 111.83h8.18M125.85 118.03h8.23" stroke="#183c18" stroke-width="0.74" fill="none"/>
<path d="M90.24 111.83h8.18" stroke="#243018" stroke-width="0.74" fill="none"/>
<path d="M98.42 111.83h8.18M125.85 119.89h8.23" stroke="#304824" stroke-width="0.74" fill="none"/>
<path d="M109.4 111.83h8.23M109.4 112.45h8.23M134.08 113.69h8.23M134.08 114.93h8.23M73.89 115.55h8.18M109.4 115.55h8.23M134.08 116.17h8.23M33 117.41h8.18M109.4 119.27h8.23" stroke="#901818" stroke-width="0.74" fill="none"/>
<path d="M134.08 111.83h8.23M109.4 118.03h8.23M134.08 118.03h8.23M134.08 118.65h8.23" stroke="#b41824" stroke-width="0.74" fill="none"/>
<path d="M33 112.45h8.18M134.08 112.45h8.23M41.18 119.27h8.18M49.36 119.27h8.18" stroke="#e42430" stroke-width="0.74" fill="none"/>
<path d="M41.18 112.45h8.18M49.36 112.45h8.18M57.53 117.41h8.18M134.08 117.41h8.23" stroke="#c02424" stroke-width="0.74" fill="none"/>
<path d="M73.89 112.45h8.18M33 113.07h8.18M134.08 114.31h8.23M109.4 114.93h8.23M125.85 116.79h8.23M134.08 116.79h8.23M49.36 117.41h8.18M41.18 118.65h8.18M49.36 118.65h8.18" stroke="#841818" stroke-width="0.74" fill="none"/>
<path d="M82.07 112.45h8.18M98.42 112.45h8.18M98.42 113.07h8.18" stroke="#60b448" stroke-width="0.74" fill="none"/>
<path d="M90.24 112.45h8.18" stroke="#54b448" stroke-width="0.74" fill="none"/>
<path d="M117.62 112.45h8.23M125.85 113.69h8.23M117.62 114.31h8.23" stroke="#601818" stroke-width="0.74" fill="none"/>
<path d="M49.36 113.07h8.18M49.36 114.93h8.18M125.85 114.93h8.23M73.89 116.17h8.18M117.62 116.17h8.23M73.89 119.27h8.18" stroke="#301818" stroke-width="0.74" fill="none"/>
<path d="M57.53 113.07h8.18" stroke="#a81824" stroke-width="0.74" fill="none"/>
<path d="M125.85 113.07h8.23M134.08 115.55h8.23" stroke="#6c1818" stroke-width="0.74" fill="none"/>
<path d="M33 113.69h8.18M117.62 116.79h8.23M41.18 119.89h8.18" stroke="#0c180c" stroke-width="0.74" fill="none"/>
<path d="M90.24 113.69h8.18" stroke="#245424" stroke-width="0.74" fill="none"/>
<path d="M98.42 113.69h8.18" stroke="#306030" stroke-width="0.74" fill="none"/>
<path d="M117.62 113.69h8.23M49.36 115.55h8.18M117.62 115.55h8.23M41.18 116.79h8.18M73.89 116.79h8.18M117.62 118.65h8.23M33 119.89h8.18M49.36 119.89h8.18M117.62 119.89h8.23" stroke="#0c0c0c" stroke-width="0.74" fill="none"/>
<path d="M82.07 114.31h8.18M98.42 114.31h8.18M98.42 118.03h8.18" stroke="#244824" stroke-width="0.74" fill="none"/>
<path d="M90.24 114.31h8.18M125.85 114.31h8.23M125.85 116.17h8.23" stroke="#244818" stroke-width="0.74" fill="none"/>
<path d="M109.4 114.31h8.23M109.4 116.17h8.23M109.4 116.79h8.23M109.4 117.41h8.23M109.4 119.89h8.23" stroke="#9c1818" stroke-width="0.74" fill="none"/>
<path d="M33 114.93h8.18M33 115.55h8.18M41.18 115.55h8.18M33 116.17h8.18M41.18 116.17h8.18M82.07 119.89h8.18M90.24 119.89h8.18" stroke="#241818" stroke-width="0.74" fill="none"/>
<path d="M73.89 114.93h8.18" stroke="#000c0c" stroke-width="0.74" fill="none"/>
<path d="M82.07 114.93h8.18M82.07 115.55h8.18M90.24 115.55h8.18M98.42 115.55h8.18M82.07 118.65h8.18" stroke="#306c30" stroke-width="0.74" fill="none"/>
<path d="M98.42 114.93h8.18M90.24 118.65h8.18M98.42 118.65h8.18" stroke="#307830" stroke-width="0.74" fill="none"/>
<path d="M82.07 116.17h8.18" stroke="#60c048" stroke-width="0.74" fill="none"/>
<path d="M98.42 116.17h8.18" stroke="#489c3c" stroke-width="0.74" fill="none"/>
<path d="M82.07 116.79h8.18" stroke="#183024" stroke-width="0.74" fill="none"/>
<path d="M90.24 116.79h8.18" stroke="#243c18" stroke-width="0.74" fill="none"/>
<path d="M98.42 116.79h8.18M82.07 118.03h8.18M117.62 118.03h8.23M117.62 119.27h8.23" stroke="#183018" stroke-width="0.74" fill="none"/>
<path d="M90.24 118.03h8.18" stroke="#183c24" stroke-width="0.74" fill="none"/>
<path d="M82.07 119.27h8.18" stroke="#3c9c3c" stroke-width="0.74" fill="none"/>
<path d="M90.24 119.27h8.18" stroke="#48b448" stroke-width="0.74" fill="none"/>
<path d="M98.42 119.27h8.18" stroke="#48a848" stroke-width="0.74" fill="none"/>
<path d="M125.85 119.27h8.23" stroke="#242418" stroke-width="0.74" fill="none"/>
<path d="M134.08 119.27h8.23M134.08 119.89h8.23" stroke="#b42424" stroke-width="0.74" fill="none"/>
<path d="M82.07 121.19h8.18M90.24 121.19h8.18M90.24 124.12h8.18M98.42 124.12h8.18M49.36 125.29h8.18M41.18 125.87h8.18M41.18 126.46h8.18M82.07 126.46h8.18M90.24 126.46h8.18M90.24 127.04h8.18M49.36 127.63h8.18M90.24 128.21h8.18M98.42 128.8h8.18M82.07 129.38h8.18M90.24 129.38h8.18M98.42 129.38h8.18M90.24 131.13h8.18M125.85 131.13h8.23M82.07 131.72h8.18M90.24 131.72h8.18M125.85 132.3h8.23M33 132.89h8.18M49.36 132.89h8.18M134.08 133.47h8.23M82.07 134.06h8.18M41.18 134.64h8.18M125.85 134.64h8.23M109.4 135.81h8.23M41.18 136.98h8.18M90.24 136.98h8.18M125.85 136.98h8.23M134.08 136.98h8.23M41.18 137.57h8.18M90.24 138.15h8.18M109.4 138.15h8.23M82.07 139.32h8.18M98.42 139.32h8.18M33 139.91h8.18M90.24 140.49h8.18M98.42 140.49h8.18M90.24 141.08h8.18M98.42 141.08h8.18M98.42 141.66h8.18M82.07 142.25h8.18M82.07 142.83h8.18M33 143.42h8.18M41.18 143.42h8.18M98.42 143.42h8.18M90.24 144h8.18M109.4 145.17h8.23M125.85 145.76h8.23M98.42 146.93h8.18M82.07 147.51h8.18M90.24 147.51h8.18M82.07 148.68h8.18M98.42 148.68h8.18M49.36 150.43h8.18M49.36 151.02h8.18M82.07 151.6h8.18M109.4 152.19h8.23M134.08 152.19h8.23M41.18 156.87h8.18M82.07 156.87h8.18M134.08 156.87h8.23M82.07 157.45h8.18M90.24 157.45h8.18M82.07 158.04h8.18M125.85 158.62h8.23M125.85 159.21h8.23M134.08 159.79h8.23M41.18 160.96h8.18M109.4 160.96h8.23M90.24 161.55h8.18M134.08 161.55h8.23M33 162.13h8.18M90.24 163.89h8.18M90.24 165.06h8.18M98.42 165.06h8.18M33 166.23h8.18M41.18 166.23h8.18M41.18 166.81h8.18M125.85 167.4h8.23M125.85 167.98h8.23M82.07 169.73h8.18M82.07 170.9h8.18M98.42 170.9h8.18M82.07 171.49h8.18M109.4 171.49h8.23M109.4 172.66h8.23M49.36 173.24h8.18M82.07 173.83h8.18M33 174.41h8.18M33 175h8.18M41.18 175h8.18M49.36 175h8.18M90.24 175h8.18M82.07 176.75h8.18M90.24 176.75h8.18M98.42 177.92h8.18M109.4 177.92h8.23M82.07 178.51h8.18M90.24 178.51h8.18M134.08 178.51h8.23M41.18 179.09h8.18M49.36 179.68h8.18M98.42 179.68h8.18M41.18 180.26h8.18M33 181.43h8.18M49.36 181.43h8.18M82.07 181.43h8.18M98.42 181.43h8.18M109.4 181.43h8.23M134.08 181.43h8.23M41.18 182.02h8.18M49.36 182.02h8.18M98.42 182.02h8.18M90.24 182.6h8.18M90.24 183.19h8.18M90.24 183.77h8.18M98.42 183.77h8.18M49.36 184.36h8.18M98.42 186.7h8.18M90.24 187.28h8.18M98.42 187.28h8.18M82.07 187.87h8.18M90.24 188.45h8.18M125.85 188.45h8.23M134.08 188.45h8.23M33 189.03h8.18M82.07 189.62h8.18M98.42 189.62h8.18M41.18 190.79h8.18M49.36 190.79h8.18M109.4 190.79h8.23M49.36 191.96h8.18M98.42 191.96h8.18M134.08 191.96h8.23M41.18 192.54h8.18M49.36 192.54h8.18M109.4 192.54h8.23M33 193.71h8.18M41.18 193.71h8.18M49.36 193.71h8.18M109.4 194.3h8.23M90.24 194.88h8.18M125.85 194.88h8.23M125.85 195.47h8.23M33 197.22h8.18M98.42 197.81h8.18M33 198.39h8.18M41.18 198.39h8.18M49.36 198.39h8.18M109.4 199.56h8.23M125.85 200.15h8.23M82.07 200.73h8.18M90.24 201.32h8.18M125.85 204.24h8.23M134.08 204.24h8.23M125.85 205.41h8.23M134.08 205.41h8.23M82.07 206h8.18M90.24 206h8.18M98.42 206h8.18M82.07 206.58h8.18M98.42 206.58h8.18M109.4 206.58h8.23M109.4 207.75h8.23M125.85 208.33h8.23M82.07 208.92h8.18M90.24 209.5h8.18M98.42 209.5h8.18M125.85 209.5h8.23M49.36 210.67h8.18M125.85 211.84h8.23M90.24 212.43h8.18M109.4 212.43h8.23M49.36 213.01h8.18M90.24 213.01h8.18M90.24 213.6h8.18M125.85 214.18h8.23M33 214.77h8.18M82.07 214.77h8.18M125.85 214.77h8.23M33 215.35h8.18M49.36 215.35h8.18M33 215.94h8.18M41.18 215.94h8.18M90.24 218.28h8.18M134.08 218.86h8.23M33 220.03h8.18M41.18 220.62h8.18M41.18 221.79h8.18M49.36 221.79h8.18M82.07 221.79h8.18M98.42 221.79h8.18M33 222.96h8.18M49.36 222.96h8.18M82.07 222.96h8.18M82.07 223.54h8.18M109.4 223.54h8.23M98.42 224.13h8.18M109.4 225.3h8.23M125.85 226.47h8.23M33 227.63h8.18M49.36 228.22h8.18M90.24 228.22h8.18M41.18 228.8h8.18M49.36 228.8h8.18M82.07 230.56h8.18M98.42 230.56h8.18M109.4 230.56h8.23M134.08 231.14h8.23M98.42 231.73h8.18M125.85 231.73h8.23M33 235.82h8.18M33 239.33h8.18M49.36 239.33h8.18M82.07 239.33h8.18M98.42 239.33h8.18M90.24 239.92h8.18M134.08 239.92h8.23M134.08 241.09h8.23M33 242.26h8.18M49.36 242.26h8.18M134.08 242.26h8.23M82.07 242.84h8.18M90.24 243.43h8.18M134.08 243.43h8.23M125.85 244.6h8.23M82.07 245.77h8.18M33 246.35h8.18M49.36 246.35h8.18M82.07 246.93h8.18M90.24 246.93h8.18M41.18 247.52h8.18M90.24 247.52h8.18M98.42 247.52h8.18M98.42 248.69h8.18M90.24 249.27h8.18M125.85 249.27h8.23M109.4 250.44h8.23M33 251.03h8.18M134.08 253.37h8.23M98.42 253.95h8.18M90.24 254.54h8.18M41.18 255.12h8.18M49.36 255.12h8.18M33 255.71h8.18" stroke="#301818" stroke-width="0.7" fill="none"/>
<path d="M98.42 121.19h8.18M109.4 121.19h8.23M117.62 121.19h8.23M134.08 121.19h8.23M109.4 121.78h8.23M90.24 123.53h8.18M33 124.12h8.18M41.18 124.12h8.18M82.07 124.12h8.18M117.62 124.12h8.23M134.08 124.7h8.23M33 125.29h8.18M41.18 125.29h8.18M73.89 125.29h8.18M98.42 126.46h8.18M82.07 127.04h8.18M109.4 127.04h8.23M90.24 127.63h8.18M82.07 128.21h8.18M98.42 128.21h8.18M90.24 128.8h8.18M82.07 130.55h8.18M82.07 131.13h8.18M98.42 131.13h8.18M109.4 131.13h8.23M117.62 131.13h8.23M109.4 131.72h8.23M49.36 132.3h8.18M117.62 132.3h8.23M98.42 134.06h8.18M33 134.64h8.18M49.36 134.64h8.18M82.07 134.64h8.18M117.62 134.64h8.23M49.36 135.23h8.18M98.42 135.23h8.18M134.08 135.23h8.23M41.18 135.81h8.18M117.62 135.81h8.23M82.07 136.4h8.18M90.24 136.4h8.18M98.42 136.4h8.18M90.24 137.57h8.18M57.53 138.15h8.18M65.71 138.15h8.18M82.07 138.15h8.18M98.42 138.15h8.18M134.08 138.15h8.23M57.53 138.74h8.18M65.71 138.74h8.18M82.07 138.74h8.18M33 139.32h8.18M90.24 139.91h8.18M82.07 140.49h8.18M73.89 141.66h8.18M90.24 142.25h8.18M98.42 142.25h8.18M82.07 143.42h8.18M82.07 144h8.18M73.89 144.59h8.18M82.07 144.59h8.18M90.24 144.59h8.18M98.42 144.59h8.18M33 145.17h8.18M41.18 145.17h8.18M49.36 145.17h8.18M117.62 145.17h8.23M82.07 145.76h8.18M90.24 145.76h8.18M98.42 145.76h8.18M109.4 146.34h8.23M33 146.93h8.18M117.62 146.93h8.23M134.08 146.93h8.23M98.42 147.51h8.18M125.85 148.68h8.23M33 149.27h8.18M41.18 149.27h8.18M49.36 149.27h8.18M109.4 149.27h8.23M82.07 149.85h8.18M90.24 149.85h8.18M117.62 149.85h8.23M33 150.43h8.18M41.18 150.43h8.18M109.4 150.43h8.23M90.24 151.6h8.18M57.53 153.36h8.18M109.4 153.36h8.23M117.62 153.36h8.23M134.08 153.94h8.23M49.36 155.11h8.18M90.24 155.11h8.18M109.4 155.11h8.23M82.07 155.7h8.18M90.24 155.7h8.18M98.42 155.7h8.18M109.4 155.7h8.23M117.62 155.7h8.23M90.24 156.28h8.18M49.36 156.87h8.18M125.85 156.87h8.23M73.89 157.45h8.18M90.24 158.04h8.18M125.85 158.04h8.23M98.42 159.21h8.18M109.4 159.21h8.23M134.08 159.21h8.23M33 159.79h8.18M90.24 159.79h8.18M98.42 160.38h8.18M109.4 160.38h8.23M117.62 160.38h8.23M90.24 160.96h8.18M117.62 161.55h8.23M125.85 161.55h8.23M82.07 162.13h8.18M82.07 162.72h8.18M90.24 162.72h8.18M109.4 162.72h8.23M125.85 162.72h8.23M82.07 163.3h8.18M98.42 163.3h8.18M125.85 163.3h8.23M82.07 163.89h8.18M109.4 163.89h8.23M82.07 164.47h8.18M82.07 165.06h8.18M109.4 165.06h8.23M125.85 165.06h8.23M33 165.64h8.18M41.18 165.64h8.18M49.36 165.64h8.18M49.36 166.23h8.18M125.85 166.23h8.23M134.08 166.23h8.23M49.36 166.81h8.18M109.4 167.98h8.23M134.08 168.57h8.23M90.24 169.73h8.18M82.07 170.32h8.18M90.24 170.32h8.18M98.42 170.32h8.18M90.24 170.9h8.18M134.08 170.9h8.23M90.24 171.49h8.18M98.42 171.49h8.18M41.18 172.66h8.18M90.24 172.66h8.18M98.42 172.66h8.18M41.18 173.24h8.18M82.07 173.24h8.18M90.24 173.24h8.18M98.42 173.24h8.18M98.42 173.83h8.18M117.62 174.41h8.23M134.08 174.41h8.23M82.07 175h8.18M98.42 175h8.18M82.07 175.58h8.18M90.24 175.58h8.18M98.42 175.58h8.18M109.4 175.58h8.23M125.85 176.75h8.23M134.08 176.75h8.23M117.62 177.34h8.23M98.42 178.51h8.18M109.4 178.51h8.23M98.42 179.09h8.18M109.4 179.09h8.23M134.08 179.09h8.23M117.62 179.68h8.23M49.36 180.26h8.18M90.24 180.26h8.18M117.62 180.26h8.23M82.07 182.02h8.18M90.24 182.02h8.18M82.07 182.6h8.18M82.07 183.19h8.18M98.42 183.19h8.18M82.07 183.77h8.18M82.07 184.94h8.18M98.42 184.94h8.18M117.62 184.94h8.23M82.07 185.53h8.18M98.42 185.53h8.18M117.62 185.53h8.23M82.07 186.7h8.18M41.18 188.45h8.18M98.42 188.45h8.18M41.18 189.03h8.18M82.07 189.03h8.18M98.42 189.03h8.18M117.62 189.03h8.23M90.24 189.62h8.18M90.24 190.2h8.18M98.42 190.2h8.18M33 190.79h8.18M33 191.96h8.18M41.18 191.96h8.18M82.07 191.96h8.18M90.24 191.96h8.18M117.62 191.96h8.23M109.4 193.13h8.23M82.07 193.71h8.18M125.85 193.71h8.23M82.07 194.88h8.18M98.42 194.88h8.18M117.62 194.88h8.23M134.08 194.88h8.23M117.62 195.47h8.23M82.07 196.05h8.18M90.24 196.05h8.18M98.42 196.05h8.18M90.24 196.64h8.18M41.18 197.22h8.18M49.36 197.22h8.18M82.07 197.81h8.18M82.07 198.98h8.18M90.24 198.98h8.18M98.42 198.98h8.18M90.24 200.15h8.18M90.24 200.73h8.18M98.42 200.73h8.18M82.07 201.32h8.18M98.42 201.32h8.18M82.07 201.9h8.18M98.42 202.49h8.18M109.4 202.49h8.23M117.62 202.49h8.23M82.07 204.24h8.18M90.24 204.24h8.18M117.62 204.83h8.23M82.07 205.41h8.18M98.42 205.41h8.18M90.24 206.58h8.18M82.07 207.17h8.18M82.07 207.75h8.18M90.24 207.75h8.18M65.71 208.92h8.18M98.42 208.92h8.18M41.18 209.5h8.18M49.36 209.5h8.18M82.07 209.5h8.18M109.4 210.09h8.23M90.24 210.67h8.18M98.42 210.67h8.18M125.85 210.67h8.23M82.07 211.26h8.18M90.24 211.26h8.18M98.42 211.26h8.18M82.07 213.01h8.18M98.42 213.01h8.18M82.07 214.18h8.18M90.24 214.18h8.18M98.42 214.18h8.18M98.42 214.77h8.18M82.07 215.94h8.18M109.4 215.94h8.23M125.85 215.94h8.23M33 217.11h8.18M41.18 217.11h8.18M49.36 217.11h8.18M82.07 217.11h8.18M33 217.69h8.18M41.18 217.69h8.18M49.36 217.69h8.18M82.07 218.28h8.18M98.42 218.28h8.18M33 220.62h8.18M109.4 220.62h8.23M82.07 221.2h8.18M90.24 221.2h8.18M33 221.79h8.18M90.24 222.96h8.18M109.4 222.96h8.23M117.62 223.54h8.23M117.62 224.13h8.23M98.42 224.71h8.18M82.07 225.88h8.18M98.42 225.88h8.18M82.07 227.05h8.18M90.24 227.05h8.18M98.42 227.05h8.18M125.85 227.63h8.23M41.18 228.22h8.18M82.07 228.22h8.18M98.42 228.22h8.18M117.62 228.22h8.23M134.08 228.22h8.23M33 228.8h8.18M41.18 229.39h8.18M90.24 229.97h8.18M73.89 230.56h8.18M90.24 230.56h8.18M109.4 231.14h8.23M82.07 231.73h8.18M90.24 231.73h8.18M134.08 232.31h8.23M33 232.9h8.18M41.18 232.9h8.18M49.36 232.9h8.18M82.07 232.9h8.18M117.62 232.9h8.23M117.62 233.48h8.23M82.07 234.65h8.18M109.4 234.65h8.23M65.71 235.24h8.18M98.42 235.24h8.18M117.62 235.24h8.23M125.85 235.24h8.23M82.07 235.82h8.18M90.24 235.82h8.18M90.24 236.99h8.18M98.42 237.58h8.18M82.07 238.75h8.18M98.42 238.75h8.18M41.18 239.33h8.18M82.07 239.92h8.18M98.42 239.92h8.18M117.62 239.92h8.23M82.07 240.5h8.18M90.24 240.5h8.18M117.62 240.5h8.23M41.18 241.09h8.18M49.36 241.09h8.18M109.4 241.67h8.23M134.08 241.67h8.23M109.4 242.26h8.23M49.36 242.84h8.18M65.71 242.84h8.18M90.24 242.84h8.18M98.42 242.84h8.18M117.62 242.84h8.23M82.07 244.6h8.18M98.42 245.77h8.18M41.18 246.35h8.18M98.42 246.35h8.18M117.62 246.35h8.23M41.18 246.93h8.18M49.36 246.93h8.18M117.62 246.93h8.23M33 247.52h8.18M82.07 247.52h8.18M82.07 248.1h8.18M90.24 248.1h8.18M41.18 251.03h8.18M82.07 251.03h8.18M90.24 252.2h8.18M82.07 252.78h8.18M98.42 252.78h8.18M82.07 253.37h8.18M90.24 253.37h8.18M90.24 253.95h8.18M33 254.54h8.18M82.07 254.54h8.18M109.4 254.54h8.23M33 255.12h8.18M49.36 255.71h8.18M125.85 255.71h8.23" stroke="#241818" stroke-width="0.7" fill="none"/>
<path d="M125.85 121.19h8.23M33 121.78h8.18M41.18 121.78h8.18M49.36 121.78h8.18M134.08 122.95h8.23M125.85 123.53h8.23M109.4 124.7h8.23M41.18 127.04h8.18M125.85 129.38h8.23M41.18 131.72h8.18M33 133.47h8.18M33 134.06h8.18M109.4 136.4h8.23M49.36 136.98h8.18M125.85 138.15h8.23M90.24 141.66h8.18M109.4 144.59h8.23M41.18 145.76h8.18M49.36 145.76h8.18M134.08 145.76h8.23M134.08 148.1h8.23M109.4 149.85h8.23M41.18 151.02h8.18M33 151.6h8.18M41.18 151.6h8.18M49.36 151.6h8.18M134.08 155.11h8.23M98.42 156.28h8.18M125.85 159.79h8.23M49.36 160.38h8.18M98.42 161.55h8.18M41.18 162.13h8.18M49.36 162.13h8.18M134.08 171.49h8.23M109.4 174.41h8.23M41.18 175.58h8.18M82.07 177.34h8.18M125.85 178.51h8.23M33 179.09h8.18M49.36 179.09h8.18M90.24 179.68h8.18M125.85 182.02h8.23M134.08 183.19h8.23M33 184.36h8.18M41.18 184.94h8.18M134.08 184.94h8.23M33 185.53h8.18M125.85 185.53h8.23M33 187.28h8.18M109.4 189.62h8.23M33 192.54h8.18M125.85 192.54h8.23M134.08 192.54h8.23M90.24 193.71h8.18M134.08 193.71h8.23M41.18 194.88h8.18M49.36 194.88h8.18M134.08 195.47h8.23M134.08 196.05h8.23M109.4 198.39h8.23M134.08 198.39h8.23M125.85 198.98h8.23M125.85 199.56h8.23M134.08 199.56h8.23M125.85 201.9h8.23M49.36 202.49h8.18M134.08 203.66h8.23M134.08 209.5h8.23M41.18 210.67h8.18M125.85 211.26h8.23M134.08 211.84h8.23M33 212.43h8.18M41.18 212.43h8.18M49.36 212.43h8.18M134.08 212.43h8.23M134.08 217.69h8.23M33 219.45h8.18M41.18 219.45h8.18M41.18 220.03h8.18M41.18 222.37h8.18M125.85 222.96h8.23M134.08 222.96h8.23M125.85 225.3h8.23M33 227.05h8.18M41.18 227.05h8.18M49.36 227.05h8.18M109.4 228.8h8.23M125.85 232.31h8.23M109.4 235.82h8.23M33 236.99h8.18M49.36 236.99h8.18M134.08 238.16h8.23M109.4 240.5h8.23M125.85 241.09h8.23M41.18 242.26h8.18M134.08 242.84h8.23M41.18 243.43h8.18M49.36 243.43h8.18M125.85 245.18h8.23M134.08 245.18h8.23M125.85 245.77h8.23M134.08 245.77h8.23M109.4 246.35h8.23M82.07 249.86h8.18M90.24 249.86h8.18M90.24 250.44h8.18M125.85 250.44h8.23M98.42 251.03h8.18M125.85 255.12h8.23" stroke="#481818" stroke-width="0.7" fill="none"/>
<path d="M125.85 121.78h8.23M33 122.95h8.18M125.85 125.29h8.23M33 129.38h8.18M109.4 133.47h8.23M125.85 133.47h8.23M125.85 134.06h8.23M33 138.15h8.18M49.36 138.15h8.18M109.4 139.91h8.23M33 141.66h8.18M49.36 141.66h8.18M41.18 144.59h8.18M49.36 144.59h8.18M125.85 145.17h8.23M49.36 148.1h8.18M41.18 148.68h8.18M134.08 151.6h8.23M125.85 153.36h8.23M134.08 153.36h8.23M49.36 153.94h8.18M109.4 154.53h8.23M49.36 157.45h8.18M49.36 161.55h8.18M33 163.3h8.18M109.4 163.3h8.23M49.36 163.89h8.18M117.62 164.47h8.23M109.4 166.81h8.23M49.36 167.4h8.18M33 170.32h8.18M41.18 170.32h8.18M33 170.9h8.18M41.18 170.9h8.18M49.36 170.9h8.18M134.08 176.17h8.23M134.08 177.34h8.23M134.08 180.85h8.23M125.85 182.6h8.23M134.08 190.79h8.23M33 193.13h8.18M41.18 193.13h8.18M49.36 193.13h8.18M109.4 194.88h8.23M41.18 199.56h8.18M33 200.15h8.18M41.18 211.26h8.18M49.36 211.26h8.18M125.85 215.35h8.23M109.4 218.86h8.23M33 221.2h8.18M41.18 221.2h8.18M49.36 221.2h8.18M134.08 224.13h8.23M41.18 224.71h8.18M134.08 224.71h8.23M41.18 225.3h8.18M49.36 225.3h8.18M41.18 225.88h8.18M49.36 225.88h8.18M134.08 231.73h8.23M49.36 232.31h8.18M49.36 233.48h8.18M134.08 235.82h8.23M134.08 249.86h8.23M41.18 252.78h8.18M125.85 252.78h8.23M109.4 255.71h8.23" stroke="#243018" stroke-width="0.7" fill="none"/>
<path d="M41.18 122.36h8.18M41.18 122.95h8.18M49.36 122.95h8.18M82.07 122.95h8.18M90.24 122.95h8.18M109.4 122.95h8.23M41.18 123.53h8.18M109.4 123.53h8.23M33 124.7h8.18M41.18 124.7h8.18M49.36 124.7h8.18M90.24 125.29h8.18M98.42 125.29h8.18M82.07 125.87h8.18M134.08 125.87h8.23M109.4 127.63h8.23M41.18 128.21h8.18M109.4 128.8h8.23M134.08 128.8h8.23M41.18 129.38h8.18M33 129.97h8.18M41.18 129.97h8.18M49.36 129.97h8.18M98.42 130.55h8.18M33 131.13h8.18M49.36 131.13h8.18M90.24 132.3h8.18M134.08 134.06h8.23M33 135.23h8.18M98.42 135.81h8.18M125.85 136.4h8.23M134.08 136.4h8.23M82.07 136.98h8.18M109.4 136.98h8.23M125.85 137.57h8.23M117.62 140.49h8.23M109.4 141.08h8.23M125.85 141.08h8.23M109.4 142.25h8.23M134.08 142.25h8.23M117.62 142.83h8.23M41.18 144h8.18M49.36 144h8.18M33 144.59h8.18M125.85 144.59h8.23M134.08 145.17h8.23M33 146.34h8.18M41.18 146.34h8.18M90.24 146.34h8.18M98.42 146.34h8.18M109.4 146.93h8.23M125.85 147.51h8.23M134.08 147.51h8.23M90.24 148.1h8.18M98.42 148.1h8.18M117.62 148.68h8.23M117.62 149.27h8.23M125.85 149.27h8.23M134.08 149.27h8.23M90.24 150.43h8.18M98.42 150.43h8.18M134.08 151.02h8.23M117.62 151.6h8.23M33 153.94h8.18M117.62 154.53h8.23M33 156.28h8.18M49.36 156.28h8.18M134.08 156.28h8.23M117.62 156.87h8.23M109.4 157.45h8.23M134.08 157.45h8.23M33 159.21h8.18M41.18 159.21h8.18M33 161.55h8.18M41.18 161.55h8.18M109.4 161.55h8.23M98.42 162.13h8.18M134.08 162.72h8.23M33 164.47h8.18M41.18 164.47h8.18M49.36 164.47h8.18M134.08 164.47h8.23M134.08 166.81h8.23M90.24 167.4h8.18M109.4 167.4h8.23M117.62 168.57h8.23M33 169.15h8.18M49.36 169.15h8.18M109.4 169.15h8.23M134.08 169.15h8.23M109.4 169.73h8.23M125.85 169.73h8.23M125.85 170.32h8.23M134.08 170.32h8.23M109.4 170.9h8.23M41.18 171.49h8.18M49.36 171.49h8.18M41.18 172.07h8.18M49.36 172.07h8.18M109.4 172.07h8.23M125.85 172.66h8.23M134.08 172.66h8.23M125.85 173.24h8.23M109.4 173.83h8.23M125.85 173.83h8.23M82.07 174.41h8.18M125.85 175h8.23M125.85 175.58h8.23M33 176.17h8.18M41.18 176.17h8.18M125.85 176.17h8.23M41.18 176.75h8.18M49.36 176.75h8.18M109.4 176.75h8.23M33 177.34h8.18M41.18 177.34h8.18M41.18 178.51h8.18M49.36 178.51h8.18M90.24 180.85h8.18M117.62 180.85h8.23M109.4 182.02h8.23M41.18 183.77h8.18M134.08 183.77h8.23M41.18 186.11h8.18M49.36 187.87h8.18M109.4 187.87h8.23M125.85 187.87h8.23M134.08 187.87h8.23M33 188.45h8.18M109.4 188.45h8.23M109.4 189.03h8.23M41.18 189.62h8.18M49.36 189.62h8.18M33 190.2h8.18M49.36 190.2h8.18M82.07 190.79h8.18M98.42 190.79h8.18M33 191.37h8.18M41.18 191.37h8.18M49.36 191.37h8.18M90.24 193.13h8.18M117.62 193.13h8.23M41.18 194.3h8.18M82.07 194.3h8.18M125.85 194.3h8.23M33 195.47h8.18M49.36 195.47h8.18M109.4 195.47h8.23M33 196.05h8.18M41.18 196.05h8.18M49.36 196.05h8.18M98.42 196.64h8.18M117.62 196.64h8.23M33 197.81h8.18M41.18 197.81h8.18M117.62 197.81h8.23M98.42 198.39h8.18M90.24 199.56h8.18M98.42 199.56h8.18M117.62 199.56h8.23M117.62 200.73h8.23M33 203.07h8.18M41.18 203.07h8.18M82.07 203.07h8.18M109.4 203.07h8.23M82.07 203.66h8.18M41.18 204.83h8.18M49.36 204.83h8.18M82.07 204.83h8.18M125.85 204.83h8.23M134.08 204.83h8.23M125.85 206h8.23M117.62 207.17h8.23M33 207.75h8.18M117.62 207.75h8.23M49.36 208.33h8.18M49.36 208.92h8.18M109.4 210.67h8.23M109.4 211.26h8.23M33 211.84h8.18M41.18 211.84h8.18M49.36 211.84h8.18M98.42 211.84h8.18M109.4 211.84h8.23M49.36 213.6h8.18M125.85 213.6h8.23M117.62 214.77h8.23M33 216.52h8.18M41.18 216.52h8.18M49.36 216.52h8.18M82.07 216.52h8.18M98.42 216.52h8.18M117.62 217.11h8.23M49.36 218.28h8.18M125.85 218.28h8.23M134.08 218.28h8.23M33 218.86h8.18M41.18 218.86h8.18M49.36 218.86h8.18M109.4 220.03h8.23M109.4 221.2h8.23M109.4 221.79h8.23M134.08 223.54h8.23M109.4 224.13h8.23M109.4 224.71h8.23M117.62 224.71h8.23M49.36 226.47h8.18M109.4 227.05h8.23M134.08 228.8h8.23M33 231.14h8.18M41.18 231.14h8.18M49.36 231.14h8.18M82.07 231.14h8.18M125.85 231.14h8.23M33 231.73h8.18M82.07 232.31h8.18M33 233.48h8.18M41.18 233.48h8.18M90.24 233.48h8.18M33 234.07h8.18M49.36 234.07h8.18M109.4 234.07h8.23M33 234.65h8.18M33 235.24h8.18M41.18 235.24h8.18M49.36 235.24h8.18M82.07 236.41h8.18M98.42 236.41h8.18M109.4 236.41h8.23M117.62 236.41h8.23M125.85 236.99h8.23M82.07 238.16h8.18M98.42 238.16h8.18M57.53 240.5h8.18M125.85 240.5h8.23M134.08 240.5h8.23M82.07 241.09h8.18M90.24 241.09h8.18M117.62 242.26h8.23M109.4 242.84h8.23M117.62 244.01h8.23M41.18 245.18h8.18M49.36 245.18h8.18M109.4 245.18h8.23M117.62 245.77h8.23M33 248.1h8.18M41.18 248.1h8.18M49.36 248.1h8.18M134.08 248.1h8.23M33 249.86h8.18M33 250.44h8.18M49.36 250.44h8.18M117.62 250.44h8.23M117.62 251.03h8.23M82.07 251.61h8.18M33 252.2h8.18M49.36 252.2h8.18M98.42 252.2h8.18M117.62 252.2h8.23M49.36 252.78h8.18M134.08 252.78h8.23M65.71 253.95h8.18M109.4 255.12h8.23M134.08 255.71h8.23" stroke="#182418" stroke-width="0.7" fill="none"/>
<path d="M125.85 122.36h8.23M134.08 122.36h8.23M134.08 124.12h8.23M109.4 125.87h8.23M109.4 126.46h8.23M125.85 126.46h8.23M134.08 126.46h8.23M125.85 128.8h8.23M109.4 134.06h8.23M109.4 144h8.23M125.85 144h8.23M33 147.51h8.18M41.18 148.1h8.18M109.4 151.6h8.23M125.85 151.6h8.23M49.36 152.77h8.18M90.24 154.53h8.18M33 155.7h8.18M41.18 155.7h8.18M125.85 160.38h8.23M134.08 160.38h8.23M109.4 162.13h8.23M41.18 162.72h8.18M41.18 163.3h8.18M49.36 163.3h8.18M109.4 166.23h8.23M134.08 173.24h8.23M109.4 176.17h8.23M125.85 179.68h8.23M134.08 179.68h8.23M109.4 183.19h8.23M134.08 190.2h8.23M109.4 191.37h8.23M125.85 193.13h8.23M125.85 196.64h8.23M134.08 196.64h8.23M109.4 197.22h8.23M125.85 197.22h8.23M134.08 197.22h8.23M134.08 197.81h8.23M41.18 200.15h8.18M33 200.73h8.18M41.18 200.73h8.18M41.18 201.32h8.18M33 201.9h8.18M41.18 201.9h8.18M49.36 201.9h8.18M109.4 205.41h8.23M49.36 207.75h8.18M109.4 208.33h8.23M109.4 214.18h8.23M33 224.13h8.18M33 224.71h8.18M125.85 229.97h8.23M134.08 229.97h8.23M33 232.31h8.18M109.4 233.48h8.23" stroke="#243c24" stroke-width="0.7" fill="none"/>
<path d="M125.85 122.95h8.23M49.36 127.04h8.18M134.08 127.04h8.23M134.08 127.63h8.23M134.08 129.38h8.23M134.08 130.55h8.23M125.85 131.72h8.23M109.4 145.76h8.23M125.85 146.34h8.23M134.08 149.85h8.23M33 154.53h8.18M33 160.38h8.18M134.08 167.4h8.23M33 168.57h8.18M125.85 172.07h8.23M49.36 175.58h8.18M109.4 180.26h8.23M109.4 183.77h8.23M109.4 184.36h8.23M33 184.94h8.18M49.36 184.94h8.18M41.18 185.53h8.18M49.36 185.53h8.18M134.08 185.53h8.23M33 186.7h8.18M41.18 186.7h8.18M125.85 191.96h8.23M33 198.98h8.18M134.08 198.98h8.23M134.08 201.32h8.23M134.08 207.17h8.23M125.85 207.75h8.23M134.08 211.26h8.23M125.85 212.43h8.23M125.85 216.52h8.23M134.08 216.52h8.23M125.85 218.86h8.23M125.85 220.03h8.23M134.08 220.03h8.23M125.85 220.62h8.23M33 222.37h8.18M109.4 222.37h8.23M41.18 227.63h8.18M109.4 232.9h8.23M134.08 234.65h8.23M41.18 238.75h8.18M33 241.67h8.18M41.18 241.67h8.18M49.36 241.67h8.18M33 245.77h8.18M134.08 247.52h8.23M41.18 249.27h8.18M98.42 250.44h8.18M134.08 251.61h8.23M41.18 253.95h8.18M125.85 254.54h8.23" stroke="#541818" stroke-width="0.7" fill="none"/>
<path d="M134.08 123.53h8.23M125.85 127.04h8.23M134.08 131.72h8.23M41.18 141.08h8.18M125.85 142.83h8.23M134.08 165.06h8.23M125.85 165.64h8.23M134.08 172.07h8.23M125.85 196.05h8.23M125.85 202.49h8.23M57.53 206h8.18M134.08 220.62h8.23M125.85 221.79h8.23M49.36 238.16h8.18M134.08 246.35h8.23" stroke="#6c1824" stroke-width="0.7" fill="none"/>
<path d="M125.85 124.7h8.23M33 125.87h8.18M49.36 125.87h8.18M49.36 126.46h8.18M33 127.04h8.18M125.85 127.63h8.23M109.4 130.55h8.23M33 131.72h8.18M49.36 131.72h8.18M41.18 132.89h8.18M109.4 132.89h8.23M41.18 133.47h8.18M49.36 133.47h8.18M41.18 134.06h8.18M49.36 134.06h8.18M90.24 134.06h8.18M134.08 134.64h8.23M33 136.4h8.18M41.18 136.4h8.18M49.36 136.4h8.18M33 136.98h8.18M33 137.57h8.18M49.36 137.57h8.18M41.18 139.91h8.18M49.36 139.91h8.18M82.07 141.08h8.18M82.07 141.66h8.18M109.4 141.66h8.23M90.24 142.83h8.18M98.42 142.83h8.18M49.36 143.42h8.18M90.24 143.42h8.18M33 145.76h8.18M109.4 148.1h8.23M125.85 148.1h8.23M90.24 148.68h8.18M33 151.02h8.18M125.85 152.19h8.23M82.07 156.28h8.18M98.42 156.87h8.18M134.08 158.04h8.23M82.07 160.38h8.18M33 160.96h8.18M49.36 160.96h8.18M125.85 162.13h8.23M134.08 163.3h8.23M134.08 165.64h8.23M134.08 167.98h8.23M109.4 170.32h8.23M125.85 171.49h8.23M41.18 174.41h8.18M49.36 174.41h8.18M98.42 176.75h8.18M90.24 177.34h8.18M98.42 177.34h8.18M134.08 177.92h8.23M33 179.68h8.18M41.18 179.68h8.18M82.07 179.68h8.18M33 180.26h8.18M90.24 181.43h8.18M125.85 181.43h8.23M33 182.02h8.18M109.4 182.6h8.23M125.85 183.19h8.23M41.18 184.36h8.18M109.4 184.94h8.23M125.85 184.94h8.23M90.24 185.53h8.18M41.18 187.28h8.18M49.36 187.28h8.18M82.07 187.28h8.18M82.07 188.45h8.18M98.42 193.71h8.18M134.08 194.3h8.23M33 194.88h8.18M109.4 196.64h8.23M125.85 198.39h8.23M109.4 200.15h8.23M33 202.49h8.18M41.18 202.49h8.18M125.85 203.66h8.23M109.4 207.17h8.23M33 209.5h8.18M33 210.67h8.18M82.07 212.43h8.18M33 213.01h8.18M41.18 213.01h8.18M109.4 213.01h8.23M109.4 213.6h8.23M41.18 214.77h8.18M49.36 214.77h8.18M41.18 215.35h8.18M109.4 215.35h8.23M49.36 215.94h8.18M90.24 215.94h8.18M49.36 219.45h8.18M49.36 220.03h8.18M98.42 221.2h8.18M125.85 221.2h8.23M134.08 221.2h8.23M49.36 222.37h8.18M134.08 225.3h8.23M109.4 225.88h8.23M134.08 226.47h8.23M134.08 227.05h8.23M49.36 227.63h8.18M49.36 229.39h8.18M134.08 235.24h8.23M41.18 235.82h8.18M49.36 235.82h8.18M98.42 235.82h8.18M125.85 236.41h8.23M41.18 236.99h8.18M49.36 238.75h8.18M109.4 239.92h8.23M125.85 241.67h8.23M125.85 242.84h8.23M33 243.43h8.18M82.07 243.43h8.18M98.42 243.43h8.18M109.4 243.43h8.23M125.85 243.43h8.23M90.24 245.77h8.18M98.42 246.93h8.18M109.4 246.93h8.23M49.36 247.52h8.18M82.07 249.27h8.18M98.42 249.27h8.18M109.4 249.27h8.23M98.42 249.86h8.18M134.08 250.44h8.23M90.24 251.03h8.18M33 253.95h8.18M49.36 253.95h8.18M98.42 254.54h8.18M82.07 255.12h8.18M41.18 255.71h8.18" stroke="#3c1818" stroke-width="0.7" fill="none"/>
<path d="M125.85 125.87h8.23M49.36 129.38h8.18M41.18 138.15h8.18M109.4 138.74h8.23M134.08 144h8.23M82.07 146.34h8.18M33 148.68h8.18M49.36 148.68h8.18M109.4 152.77h8.23M41.18 153.94h8.18M109.4 153.94h8.23M41.18 156.28h8.18M33 157.45h8.18M41.18 157.45h8.18M125.85 157.45h8.23M49.36 159.21h8.18M33 163.89h8.18M41.18 163.89h8.18M33 167.4h8.18M41.18 167.4h8.18M41.18 169.15h8.18M49.36 170.32h8.18M109.4 180.85h8.23M125.85 180.85h8.23M134.08 182.6h8.23M33 187.87h8.18M41.18 187.87h8.18M33 194.3h8.18M49.36 194.3h8.18M33 199.56h8.18M49.36 199.56h8.18M82.07 199.56h8.18M109.4 201.32h8.23M98.42 203.07h8.18M109.4 204.83h8.23M41.18 207.75h8.18M109.4 209.5h8.23M134.08 210.67h8.23M33 213.6h8.18M41.18 213.6h8.18M134.08 215.35h8.23M134.08 217.11h8.23M49.36 224.71h8.18M33 225.3h8.18M33 225.88h8.18M134.08 229.39h8.23M41.18 234.07h8.18M49.36 234.65h8.18M109.4 235.24h8.23M125.85 244.01h8.23M109.4 245.77h8.23M109.4 247.52h8.23M125.85 248.1h8.23M134.08 249.27h8.23M41.18 250.44h8.18M90.24 251.61h8.18M33 252.78h8.18M109.4 253.37h8.23M109.4 253.95h8.23" stroke="#183018" stroke-width="0.7" fill="none"/>
<path d="M125.85 128.21h8.23M134.08 128.21h8.23M125.85 130.55h8.23M134.08 139.91h8.23M33 140.49h8.18M41.18 140.49h8.18M33 141.08h8.18M49.36 141.08h8.18M134.08 142.83h8.23M125.85 143.42h8.23M134.08 146.34h8.23M109.4 151.02h8.23M41.18 154.53h8.18M49.36 154.53h8.18M125.85 155.11h8.23M41.18 160.38h8.18M41.18 168.57h8.18M49.36 168.57h8.18M109.4 168.57h8.23M33 173.83h8.18M41.18 173.83h8.18M33 175.58h8.18M41.18 182.6h8.18M49.36 186.7h8.18M109.4 186.7h8.23M125.85 189.03h8.23M109.4 196.05h8.23M109.4 197.81h8.23M41.18 198.98h8.18M49.36 198.98h8.18M134.08 201.9h8.23M134.08 202.49h8.23M57.53 205.41h8.18M41.18 206.58h8.18M49.36 206.58h8.18M125.85 206.58h8.23M125.85 207.17h8.23M109.4 208.92h8.23M33 214.18h8.18M41.18 214.18h8.18M49.36 214.18h8.18M109.4 214.77h8.23M65.71 219.45h8.18M125.85 222.37h8.23M125.85 227.05h8.23M134.08 230.56h8.23M125.85 234.65h8.23M125.85 237.58h8.23M33 238.16h8.18M41.18 238.16h8.18M125.85 238.16h8.23M33 238.75h8.18M125.85 238.75h8.23M134.08 238.75h8.23M125.85 239.33h8.23M134.08 239.33h8.23M109.4 244.01h8.23M49.36 245.77h8.18M134.08 246.93h8.23M125.85 247.52h8.23M33 249.27h8.18M49.36 249.27h8.18M82.07 250.44h8.18M125.85 251.61h8.23M134.08 253.95h8.23M134.08 255.12h8.23" stroke="#601818" stroke-width="0.7" fill="none"/>
<path d="M125.85 129.97h8.23M125.85 189.62h8.23" stroke="#6c2424" stroke-width="0.7" fill="none"/>
<path d="M134.08 129.97h8.23M125.85 139.91h8.23M49.36 173.83h8.18M125.85 180.26h8.23M73.89 182.02h8.18M109.4 187.28h8.23M134.08 189.62h8.23M134.08 207.75h8.23M134.08 222.37h8.23M134.08 237.58h8.23M109.4 238.75h8.23M41.18 245.77h8.18M125.85 246.93h8.23M134.08 254.54h8.23" stroke="#6c1818" stroke-width="0.7" fill="none"/>
<path d="M33 130.55h8.18M65.71 145.17h8.18M57.53 158.62h8.18M57.53 200.73h8.18M125.85 233.48h8.23M134.08 233.48h8.23M33 251.61h8.18" stroke="#9c2424" stroke-width="0.7" fill="none"/>
<path d="M41.18 130.55h8.18M33 167.98h8.18M125.85 187.28h8.23M125.85 230.56h8.23M41.18 239.92h8.18M49.36 239.92h8.18M57.53 251.61h8.18" stroke="#902424" stroke-width="0.7" fill="none"/>
<path d="M49.36 130.55h8.18M65.71 145.76h8.18M49.36 167.98h8.18M134.08 180.26h8.23M134.08 186.11h8.23M125.85 186.7h8.23M134.08 186.7h8.23M134.08 187.28h8.23M109.4 217.69h8.23M125.85 232.9h8.23M134.08 232.9h8.23M49.36 237.58h8.18M49.36 248.69h8.18" stroke="#842424" stroke-width="0.7" fill="none"/>
<path d="M109.4 132.3h8.23M49.36 140.49h8.18M134.08 143.42h8.23M125.85 149.85h8.23M134.08 158.62h8.23M41.18 167.98h8.18M65.71 182.02h8.18M33 182.6h8.18M49.36 182.6h8.18M125.85 186.11h8.23M125.85 201.32h8.23M109.4 203.66h8.23M33 206.58h8.18M134.08 206.58h8.23M125.85 217.69h8.23M134.08 221.79h8.23M109.4 228.22h8.23M33 237.58h8.18M41.18 237.58h8.18M33 239.92h8.18M109.4 244.6h8.23M125.85 246.35h8.23M33 248.69h8.18M41.18 248.69h8.18M65.71 251.61h8.18" stroke="#782424" stroke-width="0.7" fill="none"/>
<path d="M65.71 132.89h8.18M41.18 251.61h8.18M49.36 251.61h8.18" stroke="#a82424" stroke-width="0.7" fill="none"/>
<path d="M82.07 133.47h8.18M98.42 133.47h8.18M125.85 139.32h8.23M49.36 147.51h8.18M41.18 152.19h8.18M49.36 152.19h8.18M90.24 153.36h8.18M98.42 154.53h8.18M41.18 158.04h8.18M49.36 158.04h8.18M125.85 160.96h8.23M134.08 160.96h8.23M82.07 184.36h8.18M90.24 184.36h8.18M98.42 184.36h8.18M125.85 190.2h8.23M134.08 193.13h8.23M109.4 200.73h8.23M125.85 203.07h8.23M41.18 204.24h8.18M33 205.41h8.18M41.18 205.41h8.18M49.36 205.41h8.18M109.4 206h8.23M134.08 225.88h8.23M41.18 240.5h8.18M82.07 241.67h8.18M90.24 241.67h8.18M98.42 241.67h8.18" stroke="#305424" stroke-width="0.7" fill="none"/>
<path d="M90.24 133.47h8.18M125.85 150.43h8.23M134.08 150.43h8.23M33 152.19h8.18M134.08 152.77h8.23M41.18 153.36h8.18M82.07 154.53h8.18M134.08 154.53h8.23M49.36 155.7h8.18M125.85 155.7h8.23M134.08 155.7h8.23M33 158.04h8.18M33 162.72h8.18M134.08 203.07h8.23M109.4 216.52h8.23M41.18 224.13h8.18M49.36 224.13h8.18M125.85 224.71h8.23M125.85 234.07h8.23" stroke="#304824" stroke-width="0.7" fill="none"/>
<path d="M134.08 139.32h8.23M41.18 147.51h8.18M33 152.77h8.18M41.18 152.77h8.18M125.85 152.77h8.23M33 153.36h8.18M49.36 153.36h8.18M109.4 156.28h8.23M49.36 162.72h8.18M134.08 175.58h8.23M125.85 177.34h8.23M49.36 200.15h8.18M134.08 200.73h8.23M33 201.32h8.18M49.36 201.32h8.18M125.85 225.88h8.23M109.4 227.63h8.23M125.85 228.8h8.23M109.4 239.33h8.23M125.85 249.86h8.23M125.85 251.03h8.23" stroke="#244824" stroke-width="0.7" fill="none"/>
<path d="M41.18 141.66h8.18M33 148.1h8.18M125.85 190.79h8.23M49.36 200.73h8.18M41.18 232.31h8.18M109.4 251.61h8.23" stroke="#243c18" stroke-width="0.7" fill="none"/>
<path d="M82.07 153.36h8.18M33 183.19h8.18M134.08 234.07h8.23" stroke="#306024" stroke-width="0.7" fill="none"/>
<path d="M98.42 153.36h8.18M41.18 183.19h8.18M49.36 183.19h8.18M33 204.24h8.18M49.36 204.24h8.18M109.4 231.73h8.23M33 240.5h8.18M49.36 240.5h8.18M134.08 251.03h8.23" stroke="#306030" stroke-width="0.7" fill="none"/>
<path d="M125.85 154.53h8.23M82.07 192.54h8.18M90.24 192.54h8.18M98.42 192.54h8.18M109.4 232.31h8.23M33 236.41h8.18" stroke="#3c6c30" stroke-width="0.7" fill="none"/>
<path d="M57.53 221.2h8.18M57.53 221.79h8.18" stroke="#c02424" stroke-width="0.7" fill="none"/>
<path d="M41.18 236.41h8.18M49.36 236.41h8.18" stroke="#3c7830" stroke-width="0.7" fill="none"/>
<rect x="106.6" y="100.3" width="2.8" height="155.7" fill="#fff"/>
</g>
<rect x="32" y="104.5" width="111" height="0.5" fill="#fff6c8" opacity="0.7"/>
<rect x="32" y="110.15" width="111" height="0.65" fill="#fff0e0" opacity="0.7"/>
<rect x="32.2" y="100.6" width="114.3" height="20" fill="none" stroke="#ece48a" stroke-width="1"/>
<rect x="142.4" y="101.1" width="3.6" height="19" fill="#fff"/>
<g filter="url(#bl2)">
<rect x="33.6" y="278.3" width="109" height="155" fill="#141614"/>
<path d="M33.6 280.9h8.16M41.76 280.9h8.16M49.91 280.9h8.16" stroke="#e43018" stroke-width="4.32" fill="none"/>
<path d="M58.07 280.9h8.16" stroke="#d83018" stroke-width="4.32" fill="none"/>
<path d="M66.22 280.9h8.16" stroke="#901818" stroke-width="4.32" fill="none"/>
<path d="M74.38 280.9h8.16M117.92 280.9h8.22" stroke="#3c1818" stroke-width="4.32" fill="none"/>
<path d="M82.53 280.9h8.16M90.69 280.9h8.16M98.84 280.9h8.16" stroke="#489c3c" stroke-width="4.32" fill="none"/>
<path d="M109.7 280.9h8.22" stroke="#60b448" stroke-width="4.32" fill="none"/>
<path d="M126.15 280.9h8.22" stroke="#cc2424" stroke-width="4.32" fill="none"/>
<path d="M134.38 280.9h8.22" stroke="#e43030" stroke-width="4.32" fill="none"/>
<path d="M33.6 283.69h8.16M49.91 283.69h8.16M134.38 284.83h8.22M33.6 287.69h8.16M49.91 287.69h8.16M109.7 288.84h8.22M134.38 288.84h8.22M134.38 289.41h8.22M126.15 289.98h8.22M134.38 289.98h8.22M33.6 293.41h8.16M41.76 293.41h8.16M33.6 293.98h8.16M33.6 296.85h8.16M41.76 296.85h8.16M49.91 296.85h8.16M82.53 296.85h8.16M134.38 296.85h8.22M134.38 298.56h8.22M58.07 299.13h8.16M66.22 299.13h8.16M134.38 299.13h8.22M49.91 299.71h8.16M134.38 299.71h8.22M41.76 300.85h8.16M134.38 301.42h8.22M41.76 301.99h8.16M49.91 301.99h8.16M82.53 302.57h8.16M90.69 302.57h8.16M82.53 303.14h8.16M98.84 303.14h8.16M109.7 303.14h8.22M41.76 303.71h8.16M49.91 303.71h8.16M126.15 305.43h8.22M33.6 306h8.16M41.76 306h8.16M49.91 306h8.16M82.53 311.72h8.16M109.7 311.72h8.22M33.6 312.29h8.16M134.38 314.01h8.22M126.15 315.73h8.22M126.15 322.59h8.22M33.6 325.45h8.16M109.7 326.02h8.22M109.7 327.74h8.22M82.53 328.31h8.16M90.69 329.46h8.16M134.38 330.6h8.22M49.91 331.17h8.16M109.7 331.17h8.22M33.6 334.03h8.16M126.15 338.04h8.22M126.15 339.18h8.22M109.7 339.76h8.22M126.15 340.33h8.22M109.7 344.33h8.22M109.7 345.48h8.22M109.7 347.19h8.22M109.7 351.77h8.22M41.76 352.34h8.16M49.91 352.34h8.16M109.7 352.34h8.22M98.84 354.63h8.16M49.91 355.2h8.16M126.15 355.2h8.22M109.7 356.92h8.22M126.15 356.92h8.22M109.7 357.49h8.22M109.7 360.92h8.22M90.69 363.79h8.16M98.84 363.79h8.16M134.38 364.93h8.22M33.6 371.22h8.16M41.76 371.22h8.16M49.91 371.22h8.16M98.84 371.22h8.16M126.15 372.94h8.22M134.38 372.94h8.22M33.6 373.51h8.16M49.91 373.51h8.16M109.7 373.51h8.22M134.38 375.8h8.22M33.6 377.52h8.16M41.76 377.52h8.16M49.91 380.95h8.16M134.38 380.95h8.22M109.7 384.95h8.22M41.76 386.1h8.16M41.76 387.24h8.16M109.7 387.82h8.22M134.38 387.82h8.22M49.91 390.68h8.16M109.7 392.39h8.22M109.7 396.4h8.22M134.38 399.83h8.22M49.91 401.55h8.16M33.6 402.12h8.16M90.69 403.83h8.16M33.6 404.41h8.16M49.91 408.41h8.16M109.7 408.41h8.22M41.76 408.98h8.16M49.91 408.98h8.16M33.6 410.13h8.16M33.6 415.28h8.16M82.53 416.42h8.16M90.69 416.42h8.16M126.15 416.99h8.22M109.7 423.29h8.22M134.38 423.86h8.22M82.53 426.72h8.16M98.84 426.72h8.16M134.38 426.72h8.22M126.15 430.15h8.22M134.38 430.15h8.22" stroke="#481818" stroke-width="0.69" fill="none"/>
<path d="M41.76 283.69h8.16M33.6 284.26h8.16M41.76 284.26h8.16M49.91 284.26h8.16M90.69 285.4h8.16M41.76 287.69h8.16M109.7 290.55h8.22M134.38 291.7h8.22M33.6 292.84h8.16M41.76 292.84h8.16M134.38 293.41h8.22M41.76 293.98h8.16M49.91 293.98h8.16M82.53 295.13h8.16M90.69 295.13h8.16M109.7 295.7h8.22M98.84 296.85h8.16M33.6 297.42h8.16M82.53 297.99h8.16M90.69 297.99h8.16M109.7 299.13h8.22M98.84 302.57h8.16M90.69 303.14h8.16M82.53 303.71h8.16M98.84 306h8.16M33.6 308.29h8.16M41.76 308.29h8.16M49.91 308.29h8.16M126.15 308.29h8.22M109.7 308.86h8.22M90.69 313.44h8.16M98.84 313.44h8.16M126.15 314.01h8.22M109.7 315.15h8.22M41.76 318.01h8.16M49.91 318.01h8.16M90.69 319.73h8.16M98.84 320.3h8.16M49.91 325.45h8.16M82.53 325.45h8.16M98.84 325.45h8.16M109.7 326.6h8.22M82.53 329.46h8.16M98.84 330.03h8.16M90.69 330.6h8.16M98.84 334.03h8.16M126.15 335.75h8.22M82.53 339.76h8.16M90.69 339.76h8.16M134.38 340.33h8.22M134.38 342.62h8.22M90.69 348.34h8.16M82.53 349.48h8.16M90.69 349.48h8.16M98.84 349.48h8.16M33.6 352.34h8.16M33.6 354.63h8.16M41.76 354.63h8.16M109.7 355.78h8.22M134.38 355.78h8.22M82.53 360.35h8.16M90.69 360.35h8.16M98.84 360.35h8.16M126.15 360.35h8.22M90.69 360.92h8.16M126.15 361.5h8.22M109.7 363.21h8.22M41.76 363.79h8.16M82.53 363.79h8.16M90.69 366.07h8.16M98.84 366.07h8.16M134.38 367.22h8.22M90.69 371.22h8.16M82.53 371.8h8.16M90.69 371.8h8.16M41.76 373.51h8.16M82.53 373.51h8.16M90.69 373.51h8.16M98.84 373.51h8.16M134.38 376.37h8.22M82.53 378.09h8.16M134.38 380.38h8.22M126.15 382.09h8.22M49.91 383.24h8.16M109.7 383.81h8.22M134.38 383.81h8.22M82.53 387.24h8.16M98.84 388.96h8.16M134.38 390.1h8.22M90.69 391.25h8.16M49.91 398.11h8.16M109.7 399.26h8.22M109.7 399.83h8.22M109.7 400.97h8.22M82.53 403.83h8.16M98.84 403.83h8.16M90.69 406.12h8.16M33.6 408.41h8.16M33.6 408.98h8.16M49.91 409.56h8.16M41.76 410.13h8.16M49.91 410.13h8.16M126.15 411.27h8.22M134.38 411.27h8.22M49.91 415.28h8.16M98.84 416.42h8.16M82.53 418.71h8.16M90.69 418.71h8.16M98.84 418.71h8.16M82.53 419.28h8.16M90.69 419.28h8.16M98.84 419.28h8.16M134.38 427.86h8.22M33.6 429.01h8.16M41.76 429.01h8.16M126.15 430.73h8.22M82.53 431.3h8.16M126.15 431.87h8.22" stroke="#3c1818" stroke-width="0.69" fill="none"/>
<path d="M82.53 283.69h8.16M90.69 283.69h8.16M117.92 283.69h8.22M82.53 285.4h8.16M82.53 285.97h8.16M98.84 285.97h8.16M117.92 285.97h8.22M82.53 286.55h8.16M90.69 286.55h8.16M41.76 287.12h8.16M82.53 287.12h8.16M90.69 287.12h8.16M98.84 287.12h8.16M90.69 287.69h8.16M98.84 287.69h8.16M134.38 287.69h8.22M41.76 288.26h8.16M82.53 288.26h8.16M117.92 288.26h8.22M109.7 289.41h8.22M90.69 289.98h8.16M109.7 289.98h8.22M90.69 290.55h8.16M82.53 291.12h8.16M98.84 291.7h8.16M126.15 293.41h8.22M33.6 294.56h8.16M49.91 294.56h8.16M82.53 294.56h8.16M90.69 294.56h8.16M117.92 294.56h8.22M82.53 295.7h8.16M90.69 295.7h8.16M117.92 295.7h8.22M33.6 296.27h8.16M41.76 296.27h8.16M82.53 297.42h8.16M126.15 299.71h8.22M109.7 301.99h8.22M134.38 301.99h8.22M41.76 302.57h8.16M49.91 302.57h8.16M117.92 302.57h8.22M90.69 303.71h8.16M134.38 303.71h8.22M90.69 304.28h8.16M126.15 304.28h8.22M82.53 304.86h8.16M90.69 304.86h8.16M98.84 304.86h8.16M33.6 305.43h8.16M41.76 305.43h8.16M134.38 305.43h8.22M90.69 306h8.16M109.7 307.14h8.22M33.6 307.72h8.16M49.91 307.72h8.16M98.84 308.29h8.16M82.53 310h8.16M98.84 310h8.16M98.84 310.58h8.16M41.76 311.72h8.16M90.69 311.72h8.16M98.84 311.72h8.16M74.38 312.87h8.16M117.92 313.44h8.22M90.69 314.58h8.16M117.92 314.58h8.22M41.76 315.73h8.16M82.53 316.87h8.16M90.69 316.87h8.16M98.84 316.87h8.16M90.69 319.16h8.16M98.84 319.73h8.16M117.92 319.73h8.22M98.84 321.45h8.16M109.7 321.45h8.22M90.69 322.02h8.16M117.92 322.02h8.22M126.15 322.02h8.22M41.76 322.59h8.16M90.69 322.59h8.16M82.53 323.16h8.16M90.69 323.16h8.16M117.92 323.16h8.22M117.92 323.74h8.22M126.15 325.45h8.22M82.53 326.02h8.16M98.84 326.02h8.16M117.92 326.02h8.22M82.53 326.6h8.16M117.92 326.6h8.22M117.92 327.74h8.22M90.69 330.03h8.16M66.22 330.6h8.16M74.38 330.6h8.16M98.84 330.6h8.16M117.92 330.6h8.22M82.53 331.17h8.16M98.84 331.17h8.16M126.15 331.75h8.22M90.69 332.32h8.16M98.84 332.32h8.16M134.38 332.32h8.22M98.84 332.89h8.16M109.7 332.89h8.22M82.53 334.03h8.16M90.69 335.75h8.16M98.84 335.75h8.16M82.53 336.32h8.16M90.69 337.47h8.16M58.07 338.04h8.16M90.69 338.04h8.16M98.84 338.04h8.16M109.7 338.04h8.22M117.92 338.04h8.22M82.53 338.61h8.16M82.53 339.18h8.16M98.84 339.18h8.16M98.84 339.76h8.16M134.38 339.76h8.22M82.53 340.33h8.16M90.69 340.33h8.16M117.92 340.33h8.22M98.84 340.9h8.16M82.53 341.47h8.16M90.69 341.47h8.16M117.92 341.47h8.22M82.53 343.19h8.16M98.84 343.19h8.16M90.69 346.05h8.16M98.84 346.05h8.16M90.69 347.19h8.16M98.84 347.19h8.16M90.69 347.77h8.16M33.6 348.34h8.16M126.15 348.91h8.22M41.76 350.05h8.16M49.91 350.05h8.16M117.92 351.2h8.22M126.15 351.2h8.22M126.15 351.77h8.22M90.69 354.06h8.16M98.84 354.06h8.16M90.69 354.63h8.16M98.84 355.78h8.16M49.91 356.35h8.16M109.7 356.35h8.22M134.38 356.35h8.22M41.76 356.92h8.16M82.53 357.49h8.16M90.69 357.49h8.16M98.84 357.49h8.16M117.92 358.06h8.22M82.53 358.64h8.16M90.69 358.64h8.16M82.53 359.21h8.16M117.92 359.78h8.22M66.22 360.35h8.16M41.76 361.5h8.16M98.84 361.5h8.16M82.53 362.07h8.16M90.69 362.07h8.16M98.84 362.07h8.16M90.69 362.64h8.16M82.53 363.21h8.16M117.92 363.79h8.22M126.15 363.79h8.22M98.84 364.36h8.16M134.38 364.36h8.22M134.38 366.07h8.22M66.22 366.65h8.16M90.69 366.65h8.16M98.84 366.65h8.16M82.53 367.22h8.16M90.69 367.22h8.16M98.84 370.08h8.16M117.92 370.08h8.22M82.53 370.65h8.16M98.84 370.65h8.16M98.84 372.94h8.16M117.92 372.94h8.22M33.6 374.08h8.16M90.69 375.23h8.16M82.53 375.8h8.16M90.69 375.8h8.16M98.84 375.8h8.16M126.15 375.8h8.22M82.53 376.37h8.16M98.84 376.37h8.16M82.53 376.94h8.16M90.69 376.94h8.16M90.69 377.52h8.16M117.92 377.52h8.22M117.92 378.09h8.22M98.84 378.66h8.16M126.15 378.66h8.22M117.92 380.38h8.22M98.84 380.95h8.16M90.69 381.52h8.16M33.6 382.09h8.16M82.53 382.67h8.16M33.6 383.24h8.16M82.53 383.24h8.16M33.6 384.95h8.16M49.91 384.95h8.16M82.53 386.1h8.16M90.69 386.1h8.16M126.15 390.1h8.22M90.69 390.68h8.16M82.53 391.25h8.16M109.7 391.25h8.22M82.53 391.82h8.16M98.84 391.82h8.16M117.92 392.96h8.22M109.7 393.54h8.22M117.92 393.54h8.22M82.53 394.11h8.16M90.69 394.11h8.16M126.15 394.68h8.22M134.38 394.68h8.22M82.53 395.25h8.16M90.69 395.25h8.16M98.84 395.25h8.16M33.6 396.4h8.16M41.76 396.4h8.16M98.84 396.4h8.16M117.92 396.4h8.22M58.07 396.97h8.16M66.22 396.97h8.16M74.38 396.97h8.16M82.53 396.97h8.16M117.92 396.97h8.22M117.92 397.54h8.22M82.53 398.11h8.16M90.69 398.11h8.16M82.53 399.26h8.16M117.92 401.55h8.22M90.69 402.69h8.16M117.92 402.69h8.22M109.7 403.83h8.22M82.53 404.98h8.16M90.69 404.98h8.16M109.7 404.98h8.22M90.69 405.55h8.16M98.84 405.55h8.16M82.53 406.12h8.16M90.69 406.7h8.16M98.84 406.7h8.16M117.92 406.7h8.22M33.6 407.27h8.16M41.76 407.27h8.16M49.91 407.27h8.16M98.84 407.84h8.16M58.07 408.41h8.16M66.22 408.41h8.16M117.92 410.7h8.22M90.69 411.27h8.16M90.69 411.84h8.16M90.69 413.56h8.16M98.84 413.56h8.16M49.91 414.71h8.16M82.53 414.71h8.16M90.69 415.28h8.16M98.84 415.28h8.16M90.69 417.57h8.16M117.92 417.57h8.22M82.53 418.14h8.16M41.76 418.71h8.16M109.7 419.85h8.22M117.92 420.43h8.22M117.92 421h8.22M117.92 423.29h8.22M90.69 423.86h8.16M41.76 425h8.16M49.91 425h8.16M134.38 425h8.22M109.7 425.58h8.22M134.38 426.15h8.22M109.7 426.72h8.22M82.53 427.29h8.16M90.69 427.29h8.16M98.84 427.29h8.16M82.53 427.86h8.16M126.15 429.58h8.22M90.69 430.73h8.16M41.76 431.87h8.16M90.69 432.44h8.16M117.92 432.44h8.22M126.15 432.44h8.22M109.7 433.01h8.22M126.15 433.01h8.22" stroke="#241818" stroke-width="0.69" fill="none"/>
<path d="M109.7 283.69h8.22M33.6 290.55h8.16M41.76 290.55h8.16M134.38 290.55h8.22M109.7 312.29h8.22M126.15 326.02h8.22M134.38 333.46h8.22M126.15 340.9h8.22M134.38 346.05h8.22M109.7 347.77h8.22M41.76 353.49h8.16M33.6 355.78h8.16M134.38 363.21h8.22M33.6 364.36h8.16M126.15 387.82h8.22M33.6 392.96h8.16M33.6 399.83h8.16M109.7 406.7h8.22M109.7 407.27h8.22M33.6 411.27h8.16M49.91 411.27h8.16M49.91 411.84h8.16M134.38 412.42h8.22M109.7 412.99h8.22M33.6 426.72h8.16M33.6 427.29h8.16M126.15 428.44h8.22M109.7 429.58h8.22M109.7 430.73h8.22" stroke="#902424" stroke-width="0.69" fill="none"/>
<path d="M126.15 283.69h8.22M109.7 284.26h8.22M98.84 285.4h8.16M90.69 285.97h8.16M98.84 286.55h8.16M33.6 287.12h8.16M109.7 287.12h8.22M33.6 288.26h8.16M49.91 288.26h8.16M82.53 289.98h8.16M98.84 289.98h8.16M90.69 291.12h8.16M98.84 291.12h8.16M82.53 291.7h8.16M90.69 291.7h8.16M109.7 292.27h8.22M49.91 292.84h8.16M82.53 293.41h8.16M90.69 293.41h8.16M98.84 293.41h8.16M82.53 293.98h8.16M90.69 293.98h8.16M98.84 293.98h8.16M109.7 293.98h8.22M98.84 295.13h8.16M90.69 296.85h8.16M41.76 297.42h8.16M49.91 297.42h8.16M98.84 297.42h8.16M98.84 297.99h8.16M126.15 298.56h8.22M126.15 301.42h8.22M90.69 301.99h8.16M98.84 303.71h8.16M82.53 306h8.16M90.69 308.29h8.16M90.69 310h8.16M82.53 313.44h8.16M82.53 314.58h8.16M33.6 318.01h8.16M82.53 319.16h8.16M98.84 319.16h8.16M82.53 319.73h8.16M82.53 320.3h8.16M109.7 320.3h8.22M82.53 321.45h8.16M98.84 323.16h8.16M33.6 324.88h8.16M41.76 324.88h8.16M49.91 324.88h8.16M82.53 324.88h8.16M90.69 324.88h8.16M98.84 324.88h8.16M109.7 324.88h8.22M41.76 325.45h8.16M90.69 325.45h8.16M90.69 328.31h8.16M98.84 328.31h8.16M109.7 329.46h8.22M82.53 330.03h8.16M82.53 330.6h8.16M90.69 331.17h8.16M134.38 331.75h8.22M82.53 332.32h8.16M82.53 332.89h8.16M117.92 332.89h8.22M117.92 333.46h8.22M90.69 334.03h8.16M109.7 334.61h8.22M126.15 335.18h8.22M134.38 335.18h8.22M117.92 336.32h8.22M82.53 336.89h8.16M90.69 336.89h8.16M98.84 336.89h8.16M49.91 337.47h8.16M82.53 337.47h8.16M82.53 338.04h8.16M90.69 338.61h8.16M98.84 338.61h8.16M134.38 339.18h8.22M98.84 341.47h8.16M90.69 342.62h8.16M98.84 342.62h8.16M117.92 344.33h8.22M82.53 348.34h8.16M98.84 348.34h8.16M33.6 348.91h8.16M41.76 348.91h8.16M49.91 348.91h8.16M82.53 348.91h8.16M90.69 348.91h8.16M98.84 348.91h8.16M33.6 350.05h8.16M134.38 351.2h8.22M109.7 352.91h8.22M49.91 354.63h8.16M82.53 354.63h8.16M33.6 356.35h8.16M41.76 356.35h8.16M126.15 356.35h8.22M98.84 358.64h8.16M109.7 358.64h8.22M90.69 359.21h8.16M98.84 359.21h8.16M109.7 359.21h8.22M82.53 359.78h8.16M90.69 359.78h8.16M98.84 359.78h8.16M82.53 360.92h8.16M98.84 360.92h8.16M82.53 361.5h8.16M90.69 361.5h8.16M109.7 362.64h8.22M33.6 363.79h8.16M49.91 363.79h8.16M134.38 363.79h8.22M82.53 366.07h8.16M109.7 367.22h8.22M126.15 367.22h8.22M82.53 368.93h8.16M90.69 368.93h8.16M98.84 368.93h8.16M134.38 368.93h8.22M82.53 370.08h8.16M90.69 370.08h8.16M82.53 371.22h8.16M98.84 371.8h8.16M109.7 371.8h8.22M82.53 372.37h8.16M82.53 372.94h8.16M90.69 372.94h8.16M82.53 374.66h8.16M90.69 376.37h8.16M90.69 378.09h8.16M98.84 378.09h8.16M109.7 378.09h8.22M109.7 378.66h8.22M82.53 380.95h8.16M90.69 380.95h8.16M33.6 381.52h8.16M41.76 381.52h8.16M49.91 381.52h8.16M82.53 381.52h8.16M98.84 381.52h8.16M41.76 383.24h8.16M90.69 387.24h8.16M98.84 387.24h8.16M82.53 388.96h8.16M90.69 388.96h8.16M109.7 390.68h8.22M98.84 391.25h8.16M126.15 391.25h8.22M134.38 391.25h8.22M134.38 392.39h8.22M98.84 394.11h8.16M90.69 396.97h8.16M98.84 396.97h8.16M33.6 398.11h8.16M41.76 398.11h8.16M98.84 399.83h8.16M109.7 400.4h8.22M82.53 402.12h8.16M90.69 402.12h8.16M98.84 402.12h8.16M82.53 404.41h8.16M98.84 404.98h8.16M98.84 406.12h8.16M82.53 407.27h8.16M90.69 407.27h8.16M98.84 407.27h8.16M41.76 408.41h8.16M117.92 408.98h8.22M41.76 409.56h8.16M82.53 411.27h8.16M98.84 411.27h8.16M82.53 411.84h8.16M82.53 414.13h8.16M41.76 414.71h8.16M90.69 414.71h8.16M98.84 414.71h8.16M41.76 415.28h8.16M82.53 415.28h8.16M33.6 416.42h8.16M41.76 416.42h8.16M49.91 416.42h8.16M90.69 416.99h8.16M98.84 416.99h8.16M134.38 416.99h8.22M82.53 417.57h8.16M41.76 418.14h8.16M134.38 419.28h8.22M41.76 421h8.16M98.84 422.14h8.16M98.84 423.86h8.16M126.15 423.86h8.22M126.15 426.72h8.22M126.15 427.86h8.22M49.91 429.01h8.16M134.38 430.73h8.22M90.69 431.3h8.16M98.84 431.3h8.16M90.69 431.87h8.16M82.53 432.44h8.16M98.84 432.44h8.16M33.6 433.01h8.16M134.38 433.01h8.22" stroke="#301818" stroke-width="0.69" fill="none"/>
<path d="M98.84 284.26h8.16M82.53 284.83h8.16M90.69 284.83h8.16M117.92 285.4h8.22M33.6 285.97h8.16M109.7 287.69h8.22M33.6 288.84h8.16M41.76 288.84h8.16M49.91 288.84h8.16M82.53 288.84h8.16M117.92 290.55h8.22M109.7 294.56h8.22M109.7 295.13h8.22M33.6 295.7h8.16M126.15 296.27h8.22M134.38 296.27h8.22M109.7 297.42h8.22M117.92 297.99h8.22M33.6 298.56h8.16M98.84 298.56h8.16M109.7 299.71h8.22M82.53 300.28h8.16M90.69 300.28h8.16M98.84 300.28h8.16M126.15 300.28h8.22M90.69 301.42h8.16M98.84 301.42h8.16M109.7 302.57h8.22M82.53 306.57h8.16M90.69 306.57h8.16M134.38 308.29h8.22M49.91 308.86h8.16M82.53 309.43h8.16M90.69 309.43h8.16M134.38 309.43h8.22M82.53 311.15h8.16M98.84 311.15h8.16M117.92 311.15h8.22M134.38 311.72h8.22M126.15 312.29h8.22M134.38 312.29h8.22M98.84 312.87h8.16M109.7 313.44h8.22M33.6 314.58h8.16M41.76 314.58h8.16M49.91 315.15h8.16M33.6 315.73h8.16M117.92 315.73h8.22M82.53 316.3h8.16M98.84 316.3h8.16M109.7 316.3h8.22M117.92 316.87h8.22M41.76 317.44h8.16M49.91 317.44h8.16M82.53 317.44h8.16M98.84 317.44h8.16M117.92 318.59h8.22M41.76 319.16h8.16M49.91 319.16h8.16M66.22 319.73h8.16M74.38 319.73h8.16M109.7 322.02h8.22M90.69 323.74h8.16M134.38 325.45h8.22M134.38 328.88h8.22M126.15 329.46h8.22M126.15 330.03h8.22M134.38 330.03h8.22M117.92 331.17h8.22M41.76 331.75h8.16M49.91 331.75h8.16M98.84 331.75h8.16M109.7 331.75h8.22M41.76 332.89h8.16M49.91 332.89h8.16M126.15 334.61h8.22M134.38 334.61h8.22M33.6 335.18h8.16M41.76 335.18h8.16M49.91 335.18h8.16M82.53 335.18h8.16M90.69 335.18h8.16M98.84 335.18h8.16M109.7 335.18h8.22M117.92 335.75h8.22M134.38 336.89h8.22M109.7 338.61h8.22M109.7 341.47h8.22M33.6 342.04h8.16M49.91 342.04h8.16M82.53 342.04h8.16M90.69 342.04h8.16M117.92 342.04h8.22M109.7 344.9h8.22M126.15 346.62h8.22M82.53 350.05h8.16M98.84 350.05h8.16M134.38 350.63h8.22M134.38 351.77h8.22M82.53 352.34h8.16M117.92 353.49h8.22M33.6 357.49h8.16M41.76 357.49h8.16M49.91 357.49h8.16M134.38 357.49h8.22M41.76 358.06h8.16M90.69 358.06h8.16M109.7 358.06h8.22M98.84 363.21h8.16M109.7 365.5h8.22M117.92 365.5h8.22M117.92 368.36h8.22M109.7 370.65h8.22M117.92 370.65h8.22M134.38 371.8h8.22M126.15 373.51h8.22M98.84 374.08h8.16M109.7 374.66h8.22M117.92 376.37h8.22M134.38 379.23h8.22M134.38 381.52h8.22M109.7 382.09h8.22M41.76 382.67h8.16M49.91 382.67h8.16M134.38 382.67h8.22M117.92 383.24h8.22M126.15 383.24h8.22M82.53 384.38h8.16M98.84 384.38h8.16M126.15 384.38h8.22M82.53 388.39h8.16M33.6 388.96h8.16M109.7 388.96h8.22M134.38 388.96h8.22M33.6 389.53h8.16M41.76 389.53h8.16M49.91 389.53h8.16M82.53 390.1h8.16M109.7 390.1h8.22M109.7 391.82h8.22M134.38 394.11h8.22M41.76 394.68h8.16M98.84 394.68h8.16M117.92 394.68h8.22M126.15 395.25h8.22M109.7 395.83h8.22M126.15 395.83h8.22M90.69 396.4h8.16M109.7 396.97h8.22M90.69 397.54h8.16M98.84 397.54h8.16M33.6 398.69h8.16M98.84 398.69h8.16M117.92 398.69h8.22M90.69 399.26h8.16M117.92 399.26h8.22M117.92 400.97h8.22M109.7 402.69h8.22M41.76 403.26h8.16M109.7 403.26h8.22M134.38 403.26h8.22M117.92 403.83h8.22M117.92 404.41h8.22M33.6 405.55h8.16M49.91 405.55h8.16M109.7 406.12h8.22M126.15 406.12h8.22M134.38 406.12h8.22M41.76 407.84h8.16M82.53 408.41h8.16M90.69 408.41h8.16M98.84 408.41h8.16M117.92 408.41h8.22M90.69 408.98h8.16M134.38 408.98h8.22M117.92 410.13h8.22M82.53 410.7h8.16M90.69 410.7h8.16M49.91 412.99h8.16M126.15 414.13h8.22M109.7 415.28h8.22M82.53 415.85h8.16M90.69 415.85h8.16M117.92 416.42h8.22M109.7 418.14h8.22M33.6 419.28h8.16M41.76 419.28h8.16M82.53 419.85h8.16M90.69 419.85h8.16M90.69 420.43h8.16M33.6 422.72h8.16M41.76 422.72h8.16M126.15 422.72h8.22M117.92 423.86h8.22M82.53 424.43h8.16M90.69 424.43h8.16M98.84 424.43h8.16M126.15 424.43h8.22M134.38 424.43h8.22M98.84 425h8.16M109.7 425h8.22M109.7 427.29h8.22M117.92 427.29h8.22M134.38 427.29h8.22M82.53 429.01h8.16M134.38 429.01h8.22M82.53 429.58h8.16M98.84 429.58h8.16M134.38 429.58h8.22M49.91 430.73h8.16M41.76 432.44h8.16M109.7 432.44h8.22M134.38 432.44h8.22" stroke="#182418" stroke-width="0.69" fill="none"/>
<path d="M126.15 284.26h8.22M134.38 344.33h8.22" stroke="#c02424" stroke-width="0.69" fill="none"/>
<path d="M134.38 284.26h8.22" stroke="#e42430" stroke-width="0.69" fill="none"/>
<path d="M33.6 284.83h8.16M41.76 284.83h8.16M49.91 284.83h8.16M90.69 292.27h8.16M98.84 292.84h8.16M49.91 295.13h8.16M82.53 299.71h8.16M109.7 305.43h8.22M33.6 307.14h8.16M41.76 307.14h8.16M134.38 310h8.22M109.7 311.15h8.22M134.38 313.44h8.22M82.53 314.01h8.16M98.84 314.01h8.16M33.6 320.88h8.16M41.76 320.88h8.16M126.15 320.88h8.22M49.91 322.02h8.16M33.6 323.16h8.16M41.76 323.16h8.16M41.76 323.74h8.16M49.91 326.6h8.16M82.53 327.17h8.16M82.53 327.74h8.16M33.6 328.31h8.16M41.76 328.88h8.16M33.6 340.9h8.16M41.76 340.9h8.16M49.91 340.9h8.16M41.76 343.19h8.16M49.91 343.19h8.16M33.6 343.76h8.16M33.6 344.9h8.16M134.38 344.9h8.22M134.38 358.06h8.22M41.76 366.65h8.16M33.6 367.22h8.16M126.15 369.51h8.22M109.7 372.37h8.22M41.76 374.66h8.16M109.7 376.37h8.22M109.7 382.67h8.22M49.91 383.81h8.16M126.15 391.82h8.22M134.38 391.82h8.22M109.7 394.68h8.22M33.6 395.83h8.16M49.91 397.54h8.16M82.53 401.55h8.16M109.7 402.12h8.22M126.15 403.83h8.22M109.7 411.84h8.22M33.6 412.42h8.16M109.7 412.42h8.22M33.6 415.85h8.16M109.7 416.99h8.22M33.6 417.57h8.16M41.76 419.85h8.16M134.38 419.85h8.22M33.6 420.43h8.16M126.15 420.43h8.22M134.38 420.43h8.22M49.91 421.57h8.16M126.15 421.57h8.22M41.76 422.14h8.16M49.91 422.14h8.16M134.38 422.72h8.22" stroke="#244824" stroke-width="0.69" fill="none"/>
<path d="M109.7 284.83h8.22M134.38 295.7h8.22M126.15 342.04h8.22M126.15 343.19h8.22M126.15 344.33h8.22M134.38 362.07h8.22M33.6 375.23h8.16" stroke="#b42424" stroke-width="0.69" fill="none"/>
<path d="M126.15 284.83h8.22M66.22 288.26h8.16M126.15 288.84h8.22M126.15 292.27h8.22M126.15 297.42h8.22M109.7 297.99h8.22M49.91 301.42h8.16M109.7 308.29h8.22M33.6 310.58h8.16M41.76 310.58h8.16M49.91 310.58h8.16M126.15 310.58h8.22M134.38 312.87h8.22M126.15 318.01h8.22M126.15 319.16h8.22M134.38 319.16h8.22M126.15 320.3h8.22M49.91 333.46h8.16M33.6 347.77h8.16M41.76 349.48h8.16M109.7 349.48h8.22M134.38 350.05h8.22M33.6 350.63h8.16M41.76 350.63h8.16M126.15 352.34h8.22M33.6 352.91h8.16M33.6 353.49h8.16M49.91 353.49h8.16M134.38 354.06h8.22M109.7 354.63h8.22M126.15 354.63h8.22M134.38 354.63h8.22M134.38 359.21h8.22M41.76 360.35h8.16M33.6 362.07h8.16M49.91 362.07h8.16M126.15 362.64h8.22M134.38 362.64h8.22M134.38 370.08h8.22M134.38 371.22h8.22M134.38 378.66h8.22M33.6 379.81h8.16M134.38 379.81h8.22M109.7 384.38h8.22M41.76 386.67h8.16M33.6 388.39h8.16M49.91 388.39h8.16M49.91 392.39h8.16M126.15 396.4h8.22M109.7 397.54h8.22M126.15 397.54h8.22M134.38 397.54h8.22M33.6 399.26h8.16M49.91 399.26h8.16M41.76 399.83h8.16M33.6 402.69h8.16M33.6 403.83h8.16M41.76 404.98h8.16M126.15 404.98h8.22M109.7 413.56h8.22M109.7 414.13h8.22M134.38 414.71h8.22M109.7 415.85h8.22M49.91 416.99h8.16M126.15 422.14h8.22M33.6 425.58h8.16M41.76 425.58h8.16M49.91 425.58h8.16M126.15 425.58h8.22M41.76 426.15h8.16M49.91 426.72h8.16M109.7 427.86h8.22" stroke="#782424" stroke-width="0.69" fill="none"/>
<path d="M33.6 285.4h8.16M41.76 285.4h8.16M41.76 285.97h8.16M134.38 285.97h8.22M109.7 291.12h8.22M126.15 295.13h8.22M90.69 299.71h8.16M109.7 300.85h8.22M134.38 300.85h8.22M134.38 303.14h8.22M33.6 306.57h8.16M41.76 306.57h8.16M33.6 308.86h8.16M98.84 309.43h8.16M33.6 311.15h8.16M41.76 311.15h8.16M49.91 311.15h8.16M126.15 313.44h8.22M41.76 314.01h8.16M49.91 316.87h8.16M33.6 321.45h8.16M126.15 323.74h8.22M134.38 324.31h8.22M134.38 326.6h8.22M33.6 327.74h8.16M41.76 327.74h8.16M49.91 327.74h8.16M126.15 327.74h8.22M33.6 330.6h8.16M126.15 334.03h8.22M49.91 336.89h8.16M41.76 338.04h8.16M49.91 338.04h8.16M33.6 338.61h8.16M41.76 338.61h8.16M126.15 339.76h8.22M49.91 343.76h8.16M126.15 347.19h8.22M109.7 348.34h8.22M109.7 354.06h8.22M33.6 358.64h8.16M126.15 358.64h8.22M134.38 358.64h8.22M33.6 364.93h8.16M41.76 364.93h8.16M49.91 364.93h8.16M33.6 365.5h8.16M41.76 367.79h8.16M33.6 368.93h8.16M41.76 368.93h8.16M49.91 368.93h8.16M33.6 369.51h8.16M41.76 369.51h8.16M49.91 370.65h8.16M134.38 373.51h8.22M33.6 376.94h8.16M41.76 376.94h8.16M134.38 376.94h8.22M126.15 378.09h8.22M134.38 378.09h8.22M126.15 379.23h8.22M82.53 382.09h8.16M33.6 382.67h8.16M41.76 384.38h8.16M49.91 384.38h8.16M134.38 384.95h8.22M126.15 385.53h8.22M109.7 386.1h8.22M109.7 388.39h8.22M126.15 390.68h8.22M126.15 394.11h8.22M41.76 395.83h8.16M49.91 395.83h8.16M33.6 396.97h8.16M41.76 396.97h8.16M49.91 398.69h8.16M126.15 399.26h8.22M33.6 403.26h8.16M109.7 409.56h8.22M33.6 410.7h8.16M109.7 410.7h8.22M90.69 412.42h8.16M98.84 412.42h8.16M33.6 412.99h8.16M82.53 412.99h8.16M134.38 415.28h8.22M126.15 416.42h8.22M126.15 417.57h8.22M134.38 418.71h8.22M98.84 419.85h8.16M126.15 421h8.22M134.38 421h8.22M33.6 423.29h8.16M41.76 423.29h8.16M41.76 430.73h8.16" stroke="#243018" stroke-width="0.69" fill="none"/>
<path d="M49.91 285.4h8.16M134.38 285.4h8.22M33.6 295.13h8.16M41.76 295.13h8.16M98.84 299.71h8.16M49.91 306.57h8.16M33.6 309.43h8.16M41.76 309.43h8.16M49.91 309.43h8.16M126.15 310h8.22M49.91 314.01h8.16M90.69 314.01h8.16M33.6 315.15h8.16M33.6 316.87h8.16M41.76 316.87h8.16M109.7 316.87h8.22M49.91 318.59h8.16M33.6 320.3h8.16M41.76 320.3h8.16M49.91 320.3h8.16M49.91 320.88h8.16M126.15 321.45h8.22M134.38 321.45h8.22M33.6 324.31h8.16M49.91 324.31h8.16M126.15 324.31h8.22M33.6 326.6h8.16M126.15 326.6h8.22M90.69 327.17h8.16M134.38 327.74h8.22M41.76 330.6h8.16M49.91 330.6h8.16M41.76 336.89h8.16M126.15 336.89h8.22M126.15 337.47h8.22M134.38 337.47h8.22M33.6 338.04h8.16M109.7 339.18h8.22M109.7 342.62h8.22M41.76 343.76h8.16M41.76 344.33h8.16M49.91 344.33h8.16M41.76 344.9h8.16M49.91 344.9h8.16M33.6 345.48h8.16M49.91 345.48h8.16M126.15 345.48h8.22M134.38 347.19h8.22M134.38 347.77h8.22M126.15 350.63h8.22M126.15 358.06h8.22M41.76 358.64h8.16M49.91 358.64h8.16M109.7 359.78h8.22M134.38 360.92h8.22M109.7 363.79h8.22M41.76 365.5h8.16M49.91 365.5h8.16M33.6 366.07h8.16M41.76 366.07h8.16M49.91 366.07h8.16M49.91 366.65h8.16M33.6 367.79h8.16M33.6 368.36h8.16M134.38 383.24h8.22M33.6 383.81h8.16M41.76 383.81h8.16M33.6 384.38h8.16M134.38 385.53h8.22M134.38 389.53h8.22M109.7 394.11h8.22M33.6 397.54h8.16M41.76 397.54h8.16M134.38 403.83h8.22M49.91 412.42h8.16M90.69 412.99h8.16M98.84 412.99h8.16M126.15 415.28h8.22M41.76 415.85h8.16M49.91 415.85h8.16M41.76 417.57h8.16M49.91 417.57h8.16M126.15 418.71h8.22M49.91 419.85h8.16M41.76 420.43h8.16M49.91 420.43h8.16M109.7 420.43h8.22M134.38 421.57h8.22M134.38 423.29h8.22" stroke="#243c24" stroke-width="0.69" fill="none"/>
<path d="M126.15 285.4h8.22M33.6 286.55h8.16M41.76 286.55h8.16M134.38 287.12h8.22M90.69 289.41h8.16M82.53 292.27h8.16M82.53 292.84h8.16M90.69 292.84h8.16M82.53 299.13h8.16M90.69 299.13h8.16M98.84 299.13h8.16M109.7 300.28h8.22M134.38 302.57h8.22M126.15 304.86h8.22M134.38 304.86h8.22M109.7 306.57h8.22M134.38 306.57h8.22M90.69 315.15h8.16M33.6 316.3h8.16M41.76 316.3h8.16M126.15 316.3h8.22M134.38 316.3h8.22M33.6 318.59h8.16M109.7 318.59h8.22M33.6 323.74h8.16M33.6 327.17h8.16M41.76 327.17h8.16M49.91 327.17h8.16M33.6 329.46h8.16M41.76 329.46h8.16M109.7 330.03h8.22M49.91 336.32h8.16M33.6 339.76h8.16M33.6 344.33h8.16M126.15 344.9h8.22M33.6 347.19h8.16M49.91 347.19h8.16M126.15 347.77h8.22M33.6 359.21h8.16M109.7 364.93h8.22M134.38 365.5h8.22M109.7 374.08h8.22M33.6 374.66h8.16M49.91 374.66h8.16M126.15 375.23h8.22M134.38 375.23h8.22M126.15 386.1h8.22M134.38 387.24h8.22M109.7 389.53h8.22M126.15 389.53h8.22M109.7 398.69h8.22M82.53 400.97h8.16M98.84 401.55h8.16M134.38 404.41h8.22M134.38 417.57h8.22M109.7 422.14h8.22M126.15 423.29h8.22M33.6 427.86h8.16M41.76 427.86h8.16M49.91 427.86h8.16M33.6 430.15h8.16" stroke="#305424" stroke-width="0.69" fill="none"/>
<path d="M49.91 285.97h8.16M134.38 295.13h8.22M134.38 297.99h8.22M41.76 298.56h8.16M126.15 300.85h8.22M109.7 303.71h8.22M109.7 306h8.22M134.38 306h8.22M41.76 308.86h8.16M126.15 309.43h8.22M109.7 310h8.22M82.53 312.87h8.16M33.6 314.01h8.16M41.76 315.15h8.16M33.6 317.44h8.16M41.76 321.45h8.16M49.91 321.45h8.16M126.15 328.88h8.22M109.7 330.6h8.22M33.6 332.89h8.16M33.6 335.75h8.16M49.91 335.75h8.16M49.91 338.61h8.16M41.76 342.04h8.16M98.84 342.04h8.16M109.7 342.04h8.22M33.6 346.05h8.16M41.76 346.05h8.16M49.91 346.05h8.16M126.15 348.34h8.22M41.76 368.36h8.16M49.91 369.51h8.16M33.6 370.65h8.16M41.76 370.65h8.16M49.91 376.94h8.16M126.15 376.94h8.22M90.69 382.09h8.16M98.84 382.09h8.16M126.15 382.67h8.22M98.84 388.39h8.16M41.76 398.69h8.16M49.91 403.26h8.16M41.76 405.55h8.16M33.6 407.84h8.16M49.91 407.84h8.16M126.15 408.98h8.22M41.76 410.7h8.16M98.84 410.7h8.16M134.38 412.99h8.22M134.38 414.13h8.22M134.38 416.42h8.22M109.7 417.57h8.22M49.91 423.29h8.16M33.6 430.73h8.16" stroke="#183018" stroke-width="0.69" fill="none"/>
<path d="M109.7 285.97h8.22M109.7 288.26h8.22M41.76 335.75h8.16M33.6 336.89h8.16M126.15 357.49h8.22M33.6 366.65h8.16M49.91 367.79h8.16M49.91 368.36h8.16M134.38 374.08h8.22M126.15 384.95h8.22M134.38 390.68h8.22M134.38 395.83h8.22M49.91 396.97h8.16M134.38 399.26h8.22M126.15 403.26h8.22M126.15 404.41h8.22M49.91 410.7h8.16M82.53 412.42h8.16M126.15 412.99h8.22" stroke="#243c18" stroke-width="0.69" fill="none"/>
<path d="M49.91 286.55h8.16M126.15 287.12h8.22M82.53 289.41h8.16M98.84 292.27h8.16M126.15 302.57h8.22M82.53 305.43h8.16M90.69 305.43h8.16M98.84 305.43h8.16M49.91 307.14h8.16M109.7 315.73h8.22M49.91 316.3h8.16M82.53 318.01h8.16M90.69 318.01h8.16M98.84 318.01h8.16M41.76 318.59h8.16M82.53 318.59h8.16M90.69 318.59h8.16M98.84 318.59h8.16M134.38 320.88h8.22M33.6 322.02h8.16M41.76 322.02h8.16M49.91 323.16h8.16M49.91 323.74h8.16M134.38 323.74h8.22M41.76 324.31h8.16M33.6 326.02h8.16M41.76 326.02h8.16M49.91 326.02h8.16M41.76 326.6h8.16M98.84 327.17h8.16M90.69 327.74h8.16M98.84 327.74h8.16M41.76 328.31h8.16M49.91 328.31h8.16M33.6 328.88h8.16M49.91 328.88h8.16M49.91 329.46h8.16M109.7 334.03h8.22M33.6 336.32h8.16M41.76 336.32h8.16M41.76 339.76h8.16M49.91 339.76h8.16M109.7 340.33h8.22M33.6 343.19h8.16M41.76 345.48h8.16M33.6 346.62h8.16M41.76 346.62h8.16M49.91 346.62h8.16M126.15 360.92h8.22M41.76 367.22h8.16M49.91 367.22h8.16M109.7 368.93h8.22M109.7 371.22h8.22M134.38 386.1h8.22M126.15 387.24h8.22M109.7 398.11h8.22M90.69 400.97h8.16M98.84 400.97h8.16M90.69 401.55h8.16M109.7 405.55h8.22M109.7 410.13h8.22M41.76 412.42h8.16M126.15 418.14h8.22M134.38 418.14h8.22M33.6 419.85h8.16M126.15 419.85h8.22M33.6 421.57h8.16M41.76 421.57h8.16M33.6 422.14h8.16M109.7 429.01h8.22M49.91 430.15h8.16M134.38 431.3h8.22" stroke="#304824" stroke-width="0.69" fill="none"/>
<path d="M126.15 286.55h8.22M134.38 286.55h8.22M126.15 289.41h8.22M126.15 291.12h8.22M33.6 291.7h8.16M49.91 291.7h8.16M126.15 291.7h8.22M41.76 292.27h8.16M49.91 292.27h8.16M49.91 293.41h8.16M126.15 293.98h8.22M134.38 294.56h8.22M41.76 299.13h8.16M49.91 299.13h8.16M33.6 299.71h8.16M33.6 300.85h8.16M49.91 300.85h8.16M33.6 301.99h8.16M33.6 303.71h8.16M126.15 307.72h8.22M49.91 310h8.16M33.6 312.87h8.16M41.76 312.87h8.16M49.91 312.87h8.16M126.15 312.87h8.22M126.15 314.58h8.22M134.38 315.15h8.22M134.38 315.73h8.22M126.15 317.44h8.22M134.38 317.44h8.22M109.7 318.01h8.22M109.7 322.59h8.22M134.38 322.59h8.22M109.7 327.17h8.22M126.15 327.17h8.22M109.7 328.88h8.22M98.84 329.46h8.16M41.76 331.17h8.16M41.76 332.32h8.16M109.7 333.46h8.22M41.76 334.03h8.16M134.38 335.75h8.22M109.7 336.32h8.22M134.38 343.76h8.22M109.7 346.62h8.22M109.7 350.05h8.22M109.7 350.63h8.22M41.76 351.2h8.16M49.91 351.77h8.16M126.15 353.49h8.22M49.91 354.06h8.16M33.6 355.2h8.16M41.76 355.2h8.16M109.7 355.2h8.22M134.38 356.92h8.22M134.38 361.5h8.22M134.38 366.65h8.22M33.6 370.08h8.16M41.76 370.08h8.16M49.91 370.08h8.16M33.6 371.8h8.16M41.76 371.8h8.16M33.6 372.94h8.16M41.76 372.94h8.16M109.7 372.94h8.22M33.6 375.8h8.16M41.76 375.8h8.16M49.91 375.8h8.16M41.76 376.37h8.16M49.91 377.52h8.16M33.6 379.23h8.16M126.15 379.81h8.22M41.76 380.38h8.16M49.91 380.38h8.16M33.6 380.95h8.16M41.76 380.95h8.16M126.15 380.95h8.22M109.7 381.52h8.22M134.38 382.09h8.22M33.6 386.1h8.16M33.6 387.24h8.16M49.91 387.24h8.16M33.6 387.82h8.16M49.91 387.82h8.16M126.15 388.39h8.22M33.6 390.68h8.16M41.76 390.68h8.16M82.53 392.96h8.16M98.84 392.96h8.16M126.15 393.54h8.22M134.38 393.54h8.22M134.38 396.97h8.22M126.15 399.83h8.22M41.76 400.4h8.16M126.15 400.97h8.22M33.6 401.55h8.16M109.7 401.55h8.22M126.15 402.69h8.22M41.76 404.41h8.16M49.91 404.41h8.16M33.6 406.7h8.16M109.7 407.84h8.22M134.38 410.13h8.22M126.15 410.7h8.22M126.15 414.71h8.22M33.6 416.99h8.16M33.6 423.86h8.16M41.76 423.86h8.16M49.91 423.86h8.16M109.7 423.86h8.22M82.53 426.15h8.16M90.69 426.72h8.16" stroke="#541818" stroke-width="0.69" fill="none"/>
<path d="M74.38 288.26h8.16M126.15 288.26h8.22M134.38 288.26h8.22M33.6 291.12h8.16M41.76 291.12h8.16M49.91 291.12h8.16M41.76 291.7h8.16M33.6 292.27h8.16M134.38 292.27h8.22M126.15 292.84h8.22M134.38 292.84h8.22M33.6 299.13h8.16M41.76 299.71h8.16M126.15 303.71h8.22M126.15 307.14h8.22M134.38 307.14h8.22M33.6 310h8.16M109.7 310.58h8.22M41.76 312.29h8.16M49.91 312.29h8.16M134.38 314.58h8.22M126.15 316.87h8.22M134.38 316.87h8.22M126.15 318.59h8.22M126.15 324.88h8.22M74.38 326.02h8.16M134.38 326.02h8.22M134.38 327.17h8.22M33.6 330.03h8.16M41.76 330.03h8.16M49.91 330.03h8.16M33.6 331.17h8.16M126.15 331.17h8.22M33.6 332.32h8.16M134.38 332.89h8.22M33.6 333.46h8.16M49.91 334.03h8.16M134.38 338.04h8.22M126.15 350.05h8.22M33.6 351.2h8.16M49.91 351.2h8.16M109.7 351.2h8.22M33.6 351.77h8.16M49.91 352.91h8.16M134.38 352.91h8.22M41.76 354.06h8.16M33.6 360.35h8.16M33.6 360.92h8.16M33.6 362.64h8.16M33.6 363.21h8.16M41.76 363.21h8.16M58.07 366.65h8.16M109.7 367.79h8.22M49.91 371.8h8.16M41.76 372.37h8.16M49.91 372.94h8.16M33.6 376.37h8.16M49.91 376.37h8.16M33.6 378.09h8.16M41.76 378.09h8.16M41.76 378.66h8.16M41.76 379.23h8.16M41.76 379.81h8.16M33.6 380.38h8.16M126.15 383.81h8.22M33.6 385.53h8.16M41.76 385.53h8.16M49.91 386.1h8.16M41.76 387.82h8.16M33.6 390.1h8.16M41.76 390.1h8.16M41.76 391.25h8.16M58.07 392.96h8.16M90.69 392.96h8.16M126.15 392.96h8.22M134.38 392.96h8.22M49.91 393.54h8.16M109.7 395.25h8.22M134.38 396.4h8.22M126.15 396.97h8.22M126.15 398.69h8.22M134.38 398.69h8.22M41.76 399.26h8.16M33.6 400.4h8.16M49.91 400.4h8.16M134.38 400.97h8.22M41.76 401.55h8.16M41.76 402.12h8.16M49.91 402.12h8.16M126.15 402.12h8.22M41.76 402.69h8.16M49.91 402.69h8.16M134.38 402.69h8.22M41.76 406.7h8.16M109.7 408.98h8.22M126.15 412.42h8.22M109.7 414.71h8.22M126.15 415.85h8.22M109.7 421.57h8.22M109.7 422.72h8.22M109.7 424.43h8.22M98.84 426.15h8.16M134.38 431.87h8.22" stroke="#601818" stroke-width="0.69" fill="none"/>
<path d="M33.6 289.41h8.16M41.76 289.41h8.16M49.91 289.41h8.16M109.7 307.72h8.22M109.7 314.01h8.22M126.15 328.31h8.22M134.38 328.31h8.22M126.15 400.4h8.22" stroke="#3c7830" stroke-width="0.69" fill="none"/>
<path d="M98.84 289.41h8.16M82.53 315.15h8.16M98.84 315.15h8.16M82.53 315.73h8.16M90.69 315.73h8.16M98.84 315.73h8.16M109.7 319.16h8.22M33.6 319.73h8.16M41.76 319.73h8.16M82.53 328.88h8.16M90.69 328.88h8.16M98.84 328.88h8.16M41.76 339.18h8.16M49.91 339.18h8.16M33.6 341.47h8.16M109.7 343.19h8.22M82.53 344.33h8.16M90.69 344.33h8.16M98.84 344.33h8.16M82.53 344.9h8.16M90.69 344.9h8.16M98.84 344.9h8.16M134.38 345.48h8.22M109.7 348.91h8.22M82.53 353.49h8.16M90.69 353.49h8.16M98.84 353.49h8.16M41.76 359.21h8.16M126.15 365.5h8.22M134.38 369.51h8.22M82.53 389.53h8.16M90.69 389.53h8.16M98.84 389.53h8.16M134.38 400.4h8.22M134.38 411.84h8.22M33.6 424.43h8.16M41.76 424.43h8.16M49.91 424.43h8.16M126.15 431.3h8.22" stroke="#306030" stroke-width="0.69" fill="none"/>
<path d="M49.91 290.55h8.16M134.38 297.42h8.22M126.15 299.13h8.22M49.91 303.14h8.16M134.38 307.72h8.22M134.38 310.58h8.22M109.7 335.75h8.22M134.38 336.32h8.22M74.38 339.76h8.16M41.76 355.78h8.16M126.15 371.22h8.22M66.22 376.37h8.16M109.7 380.95h8.22M33.6 386.67h8.16M49.91 386.67h8.16M41.76 388.39h8.16M33.6 392.39h8.16M33.6 395.25h8.16M41.76 395.25h8.16M49.91 399.83h8.16M134.38 405.55h8.22M126.15 406.7h8.22M41.76 411.27h8.16M109.7 418.71h8.22M66.22 420.43h8.16M109.7 421h8.22M134.38 425.58h8.22M41.76 427.29h8.16M49.91 427.29h8.16M33.6 428.44h8.16M41.76 428.44h8.16M49.91 428.44h8.16" stroke="#842424" stroke-width="0.69" fill="none"/>
<path d="M126.15 290.55h8.22M109.7 293.41h8.22M33.6 304.28h8.16M49.91 304.28h8.16M33.6 313.44h8.16M41.76 313.44h8.16M109.7 317.44h8.22M109.7 323.74h8.22M126.15 333.46h8.22M126.15 336.32h8.22M66.22 339.76h8.16M134.38 342.04h8.22M41.76 359.78h8.16M41.76 375.23h8.16M49.91 375.23h8.16M49.91 394.11h8.16M134.38 401.55h8.22M126.15 405.55h8.22M33.6 406.12h8.16M33.6 411.84h8.16M41.76 411.84h8.16M134.38 428.44h8.22M41.76 429.58h8.16M49.91 429.58h8.16" stroke="#a82424" stroke-width="0.69" fill="none"/>
<path d="M134.38 291.12h8.22M33.6 301.42h8.16M41.76 301.42h8.16M33.6 303.14h8.16M41.76 303.14h8.16M41.76 310h8.16M134.38 318.59h8.22M134.38 320.3h8.22M109.7 320.88h8.22M109.7 323.16h8.22M66.22 326.02h8.16M126.15 343.76h8.22M126.15 346.05h8.22M33.6 349.48h8.16M49.91 349.48h8.16M41.76 351.77h8.16M134.38 352.34h8.22M49.91 360.35h8.16M41.76 362.07h8.16M41.76 362.64h8.16M49.91 362.64h8.16M49.91 363.21h8.16M109.7 370.08h8.22M126.15 370.08h8.22M134.38 370.65h8.22M33.6 372.37h8.16M49.91 372.37h8.16M49.91 378.66h8.16M109.7 379.23h8.22M49.91 379.81h8.16M109.7 379.81h8.22M33.6 393.54h8.16M41.76 393.54h8.16M41.76 403.83h8.16M49.91 403.83h8.16M33.6 404.98h8.16M49.91 404.98h8.16M134.38 404.98h8.22M33.6 426.15h8.16M49.91 426.15h8.16M41.76 426.72h8.16" stroke="#6c1824" stroke-width="0.69" fill="none"/>
<path d="M126.15 294.56h8.22M109.7 296.85h8.22M126.15 296.85h8.22M126.15 315.15h8.22M134.38 318.01h8.22M126.15 330.6h8.22M134.38 331.17h8.22M49.91 332.32h8.16M41.76 333.46h8.16M109.7 337.47h8.22M41.76 347.77h8.16M49.91 347.77h8.16M41.76 352.91h8.16M126.15 352.91h8.22M134.38 353.49h8.22M33.6 354.06h8.16M126.15 354.06h8.22M41.76 360.92h8.16M49.91 360.92h8.16M126.15 366.65h8.22M126.15 368.36h8.22M134.38 368.36h8.22M126.15 370.65h8.22M74.38 376.37h8.16M109.7 377.52h8.22M126.15 377.52h8.22M49.91 378.09h8.16M33.6 378.66h8.16M49.91 379.23h8.16M109.7 383.24h8.22M49.91 385.53h8.16M49.91 390.1h8.16M33.6 391.25h8.16M49.91 391.25h8.16M41.76 392.39h8.16M33.6 400.97h8.16M134.38 402.12h8.22M49.91 406.7h8.16M126.15 410.13h8.22M109.7 411.27h8.22M41.76 416.99h8.16M74.38 420.43h8.16M134.38 422.14h8.22M90.69 426.15h8.16" stroke="#6c1818" stroke-width="0.69" fill="none"/>
<path d="M126.15 295.7h8.22M126.15 367.79h8.22M126.15 401.55h8.22M109.7 431.87h8.22" stroke="#d82430" stroke-width="0.69" fill="none"/>
<path d="M33.6 297.99h8.16M41.76 297.99h8.16M49.91 297.99h8.16M109.7 301.42h8.22M109.7 304.86h8.22M126.15 338.61h8.22M134.38 338.61h8.22M41.76 341.47h8.16M49.91 341.47h8.16M82.53 345.48h8.16M90.69 345.48h8.16M98.84 345.48h8.16M82.53 352.91h8.16M90.69 352.91h8.16M98.84 352.91h8.16M109.7 366.07h8.22M134.38 408.41h8.22M33.6 414.13h8.16M41.76 414.13h8.16M49.91 414.13h8.16" stroke="#3c6c30" stroke-width="0.69" fill="none"/>
<path d="M33.6 300.28h8.16M41.76 300.28h8.16M49.91 300.28h8.16M41.76 304.28h8.16M49.91 313.44h8.16M109.7 332.32h8.22M134.38 340.9h8.22M58.07 354.06h8.16M49.91 355.78h8.16M126.15 359.21h8.22M33.6 359.78h8.16M49.91 359.78h8.16M126.15 363.21h8.22M41.76 364.36h8.16M49.91 364.36h8.16M109.7 368.36h8.22M134.38 377.52h8.22M41.76 392.96h8.16M49.91 392.96h8.16M33.6 394.11h8.16M41.76 394.11h8.16M49.91 395.25h8.16M41.76 406.12h8.16M49.91 406.12h8.16M134.38 406.7h8.22M33.6 429.58h8.16M109.7 431.3h8.22" stroke="#9c2424" stroke-width="0.69" fill="none"/>
<path d="M49.91 319.73h8.16M33.6 339.18h8.16M33.6 340.33h8.16M41.76 340.33h8.16M49.91 340.33h8.16M41.76 347.19h8.16M49.91 359.21h8.16M33.6 391.82h8.16M126.15 411.84h8.22M41.76 430.15h8.16" stroke="#306024" stroke-width="0.69" fill="none"/>
<path d="M109.7 324.31h8.22M49.91 350.63h8.16M126.15 362.07h8.22M41.76 400.97h8.16M49.91 400.97h8.16" stroke="#6c2424" stroke-width="0.69" fill="none"/>
<path d="M134.38 343.19h8.22" stroke="#cc2424" stroke-width="0.69" fill="none"/>
<path d="M126.15 349.48h8.22M109.7 430.15h8.22" stroke="#489c3c" stroke-width="0.69" fill="none"/>
<path d="M134.38 349.48h8.22" stroke="#48843c" stroke-width="0.69" fill="none"/>
<path d="M134.38 367.79h8.22M109.7 375.23h8.22" stroke="#cc2430" stroke-width="0.69" fill="none"/>
<path d="M41.76 391.82h8.16M49.91 391.82h8.16M126.15 408.41h8.22" stroke="#3c6030" stroke-width="0.69" fill="none"/>
<rect x="107" y="277.8" width="2.7" height="155.5" fill="#fff"/>
</g>
<rect x="31.2" y="278.2" width="115.4" height="5.3" fill="none" stroke="#e8dc50" stroke-width="1"/>
<rect x="142.8" y="278.8" width="3.3" height="4.2" fill="#fff"/>
<path d="M146.8 100.6L197.4 95.8M146.8 120.8L196.4 367M146.8 279L195.5 386.5M146.8 283.4L196.5 438.5" stroke="#8a8a8a" stroke-width="0.7" fill="none"/>
<rect x="198.7" y="440.9" width="160.6" height="3.1" fill="#000"/>
<defs><linearGradient id="cb" x1="0" x2="1" y1="0" y2="0"><stop offset="0" stop-color="#62c44c"/><stop offset="0.5" stop-color="#0c0c0c"/><stop offset="1" stop-color="#ee2a2e"/></linearGradient></defs>
<rect x="32.3" y="454" width="114.2" height="6.8" fill="url(#cb)"/>
<rect x="426.9" y="452.2" width="20.8" height="7.2" fill="#fff89c" stroke="#a8a070" stroke-width="0.6"/>
<rect x="426.9" y="465" width="20.8" height="6.8" fill="#ee1c2a" stroke="#b03030" stroke-width="0.5"/>
<g font-family="'Liberation Sans', Arial, sans-serif" fill="#000" opacity="0.99">
<text transform="translate(208.7 89.8) rotate(-90) scale(1.02 1)" font-size="10.29" xml:space="preserve"><tspan font-style="italic">TRA@/TRD@</tspan><tspan font-style="normal"> 1</tspan></text>
<text transform="translate(227.6 89.8) rotate(-90) scale(1.02 1)" font-size="10.29" xml:space="preserve"><tspan font-style="italic">TRA@/TRD@</tspan><tspan font-style="normal"> 2</tspan></text>
<text transform="translate(246.5 89.8) rotate(-90) scale(1.02 1)" font-size="10.29" xml:space="preserve"><tspan font-style="italic">TRD@</tspan></text>
<text transform="translate(265.4 89.8) rotate(-90) scale(1.02 1)" font-size="10.29" xml:space="preserve"><tspan font-style="italic">CTHRC1</tspan></text>
<text transform="translate(284.3 89.8) rotate(-90) scale(1.02 1)" font-size="10.29" xml:space="preserve"><tspan font-style="normal">---</tspan></text>
<text transform="translate(303.2 89.8) rotate(-90) scale(1.02 1)" font-size="10.29" xml:space="preserve"><tspan font-style="italic">ARPP-21</tspan></text>
<text transform="translate(322.1 89.8) rotate(-90) scale(1.02 1)" font-size="10.29" xml:space="preserve"><tspan font-style="italic">CTNNA1</tspan><tspan font-style="normal"> 1</tspan></text>
<text transform="translate(341 89.8) rotate(-90) scale(1.02 1)" font-size="10.29" xml:space="preserve"><tspan font-style="italic">CTNNA1</tspan><tspan font-style="normal"> 2</tspan></text>
<text transform="translate(359.9 89.8) rotate(-90) scale(1.02 1)" font-size="10.29" xml:space="preserve"><tspan font-style="italic">CTNNA1</tspan><tspan font-style="normal"> 3</tspan></text>
<text transform="translate(380.68 91.4) rotate(-90) scale(1.02 1)" font-size="10.2" xml:space="preserve"><tspan font-style="italic">CEBPA</tspan></text>
<text transform="translate(398.62 91.4) rotate(-90) scale(1.02 1)" font-size="10.2" xml:space="preserve"><tspan font-style="italic">NOTCH1</tspan></text>
<text transform="translate(416.57 91.4) rotate(-90) scale(1.02 1)" font-size="10.2" xml:space="preserve"><tspan font-style="italic">TRIB2</tspan></text>
<text transform="translate(434.52 91.4) rotate(-90) scale(1.02 1)" font-size="10.2" xml:space="preserve"><tspan font-style="italic">CD7</tspan></text>
<text transform="translate(458.8 92.6) rotate(-90) scale(1.02 1)" font-size="10.39" xml:space="preserve"><tspan font-style="italic">CEBPA</tspan><tspan font-style="normal"> mutation</tspan></text>
<text transform="translate(477.65 92.6) rotate(-90) scale(1.02 1)" font-size="10.39" xml:space="preserve"><tspan font-style="italic">CEBPA</tspan><tspan font-style="normal"> methylation</tspan></text>
<text transform="translate(496.5 92.6) rotate(-90) scale(1.02 1)" font-size="10.39" xml:space="preserve"><tspan font-style="italic">NOTCH1</tspan><tspan font-style="normal"> mutation</tspan></text>
<text x="512.6" y="128" font-size="15.2" font-weight="bold" text-anchor="middle" fill="#000">i</text>
<text x="512.6" y="200.8" font-size="15.2" font-weight="bold" text-anchor="middle" fill="#000">ii</text>
<text x="512.6" y="311" font-size="15.2" font-weight="bold" text-anchor="middle" fill="#000">iii</text>
<text x="514" y="418.1" font-size="15.2" font-weight="bold" text-anchor="middle" fill="#000">iv</text>
<text x="0.6" y="94.5" font-size="19.4" font-weight="bold" fill="#000">A</text>
<text x="0.6" y="277" font-size="19.4" font-weight="bold" fill="#000">B</text>
<text transform="translate(23.4 246.8) rotate(-90)" font-size="13.25">AML cohort 1 (n=262)</text>
<text transform="translate(22.7 423.4) rotate(-90)" font-size="13.3">AML cohort 2 (n=268)</text>
<text x="1.5" y="460.4" font-size="8.7">low (-4)</text>
<text x="148" y="460.4" font-size="8.7">high (+4)</text>
<text x="42.7" y="471.5" font-size="8.8">relative expression (log2)</text>
<text x="206.6" y="456.8" font-size="10.55">9 probe set prediction signature</text>
<text x="451.2" y="460.6" font-size="10.3">= negative</text>
<text x="451.2" y="473.1" font-size="10.3">= positive</text>
</g>
</svg>
</body></html>
